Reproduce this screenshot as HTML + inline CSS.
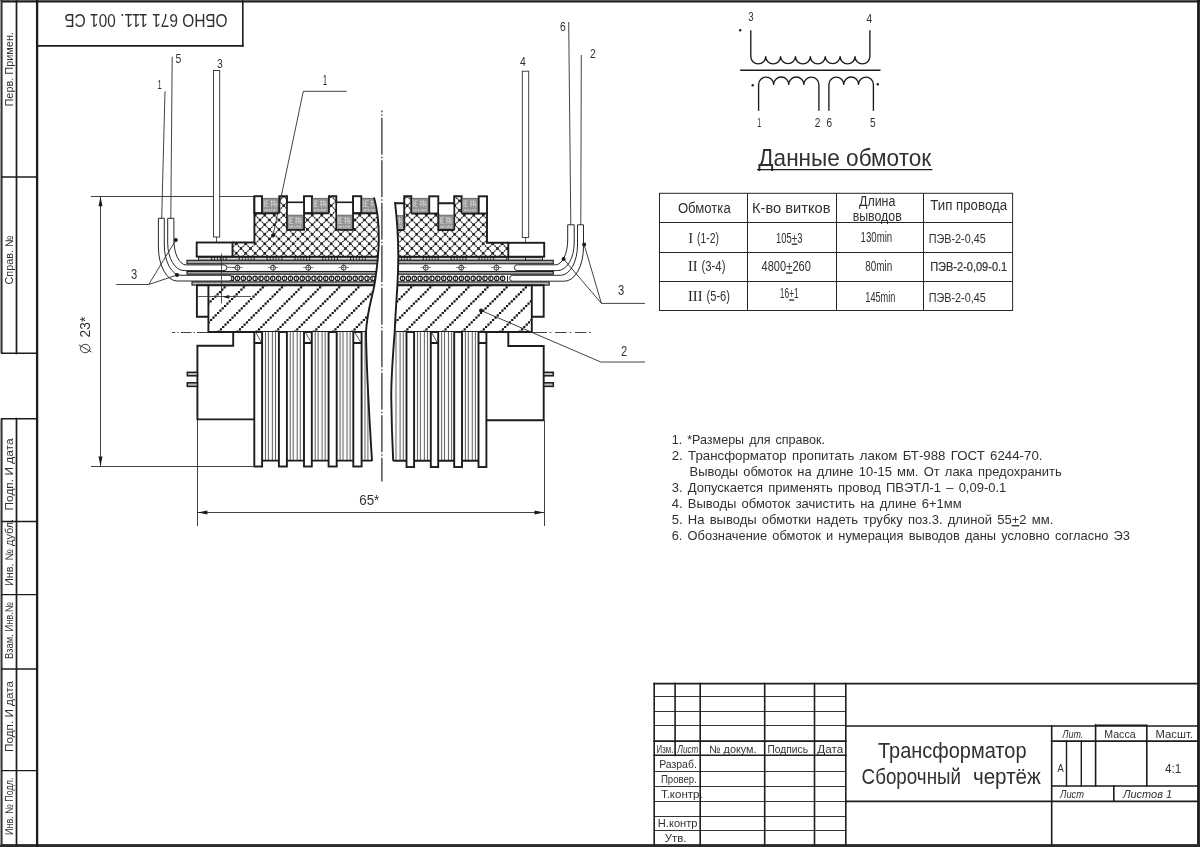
<!DOCTYPE html>
<html><head><meta charset="utf-8"><title>Сборочный чертёж</title>
<style>
html,body{margin:0;padding:0;background:#fff;}
body{width:1200px;height:847px;overflow:hidden;font-family:"Liberation Sans",sans-serif;}
svg{display:block;filter:grayscale(100%);}
</style></head><body>
<svg width="1200" height="847" viewBox="0 0 1200 847">
<rect x="0" y="0" width="1200" height="847" fill="#ffffff"/>
<g id="frame" stroke-linecap="square">
<rect x="0" y="0" width="1200" height="1.2" fill="#5c5c5c"/>
<line x1="0.00" y1="1.80" x2="1199.50" y2="1.80" stroke="#1c1c1c" stroke-width="1.5" />
<line x1="1198.50" y1="0.00" x2="1198.50" y2="845.00" stroke="#1c1c1c" stroke-width="2.8" />
<rect x="0" y="844.1" width="1200" height="2.9" fill="#2a2a2a"/>
<line x1="37.10" y1="0.00" x2="37.10" y2="845.00" stroke="#1c1c1c" stroke-width="2.3" />
<rect x="0" y="1.0" width="1.1" height="352.3" fill="#9c9c9c"/>
<line x1="1.80" y1="1.00" x2="1.80" y2="353.30" stroke="#2a2a2a" stroke-width="1.5" />
<line x1="16.50" y1="1.00" x2="16.50" y2="353.30" stroke="#1c1c1c" stroke-width="1.7" />
<rect x="0" y="418.7" width="1.1" height="425.90000000000003" fill="#9c9c9c"/>
<line x1="1.80" y1="418.70" x2="1.80" y2="844.60" stroke="#2a2a2a" stroke-width="1.5" />
<line x1="16.50" y1="418.70" x2="16.50" y2="844.60" stroke="#1c1c1c" stroke-width="1.7" />
<line x1="1.70" y1="177.00" x2="37.00" y2="177.00" stroke="#1c1c1c" stroke-width="1.4" />
<line x1="1.70" y1="353.30" x2="37.00" y2="353.30" stroke="#1c1c1c" stroke-width="1.4" />
<line x1="1.70" y1="418.70" x2="37.00" y2="418.70" stroke="#1c1c1c" stroke-width="1.4" />
<line x1="1.70" y1="521.50" x2="37.00" y2="521.50" stroke="#1c1c1c" stroke-width="1.4" />
<line x1="1.70" y1="594.60" x2="37.00" y2="594.60" stroke="#1c1c1c" stroke-width="1.4" />
<line x1="1.70" y1="669.00" x2="37.00" y2="669.00" stroke="#1c1c1c" stroke-width="1.4" />
<line x1="1.70" y1="770.60" x2="37.00" y2="770.60" stroke="#1c1c1c" stroke-width="1.4" />
<line x1="37.00" y1="45.90" x2="242.80" y2="45.90" stroke="#1c1c1c" stroke-width="1.6" />
<line x1="242.80" y1="1.00" x2="242.80" y2="45.90" stroke="#1c1c1c" stroke-width="1.6" />
</g>
<text transform="translate(227.6,14.3) rotate(180)" font-family="Liberation Sans, sans-serif" font-size="17.8" fill="#303030" textLength="163.2" lengthAdjust="spacingAndGlyphs">ОБНО 671 111. 001 СБ</text>
<text transform="translate(12.50,106.50) rotate(-90)" font-family="Liberation Sans, sans-serif" font-size="11" fill="#303030" textLength="74.5" lengthAdjust="spacingAndGlyphs">Перв. Примен.</text>
<text transform="translate(12.50,284.50) rotate(-90)" font-family="Liberation Sans, sans-serif" font-size="11" fill="#303030" textLength="49.0" lengthAdjust="spacingAndGlyphs">Справ. №</text>
<text transform="translate(12.50,510.50) rotate(-90)" font-family="Liberation Sans, sans-serif" font-size="11" fill="#303030" textLength="72.0" lengthAdjust="spacingAndGlyphs">Подп. И дата</text>
<text transform="translate(12.50,586.00) rotate(-90)" font-family="Liberation Sans, sans-serif" font-size="11" fill="#303030" textLength="67.0" lengthAdjust="spacingAndGlyphs">Инв. № дубл.</text>
<text transform="translate(12.50,659.00) rotate(-90)" font-family="Liberation Sans, sans-serif" font-size="11" fill="#303030" textLength="57.0" lengthAdjust="spacingAndGlyphs">Взам. Инв.№</text>
<text transform="translate(12.50,752.00) rotate(-90)" font-family="Liberation Sans, sans-serif" font-size="11" fill="#303030" textLength="71.0" lengthAdjust="spacingAndGlyphs">Подп. И дата</text>
<text transform="translate(12.50,835.00) rotate(-90)" font-family="Liberation Sans, sans-serif" font-size="11" fill="#303030" textLength="57.5" lengthAdjust="spacingAndGlyphs">Инв. № Подл.</text>
<g id="titleblock" stroke-linecap="square">
<line x1="654.20" y1="683.60" x2="1198.40" y2="683.60" stroke="#1c1c1c" stroke-width="1.6" />
<line x1="654.20" y1="683.60" x2="654.20" y2="844.60" stroke="#1c1c1c" stroke-width="1.6" />
<line x1="675.10" y1="683.60" x2="675.10" y2="755.40" stroke="#1c1c1c" stroke-width="1.6" />
<line x1="700.20" y1="683.60" x2="700.20" y2="844.60" stroke="#1c1c1c" stroke-width="1.6" />
<line x1="764.70" y1="683.60" x2="764.70" y2="844.60" stroke="#1c1c1c" stroke-width="1.6" />
<line x1="814.50" y1="683.60" x2="814.50" y2="844.60" stroke="#1c1c1c" stroke-width="1.6" />
<line x1="845.80" y1="683.60" x2="845.80" y2="844.60" stroke="#1c1c1c" stroke-width="1.6" />
<line x1="654.20" y1="696.50" x2="845.80" y2="696.50" stroke="#1c1c1c" stroke-width="0.9" />
<line x1="654.20" y1="711.50" x2="845.80" y2="711.50" stroke="#1c1c1c" stroke-width="0.9" />
<line x1="654.20" y1="725.50" x2="845.80" y2="725.50" stroke="#1c1c1c" stroke-width="0.9" />
<line x1="654.20" y1="741.10" x2="845.80" y2="741.10" stroke="#1c1c1c" stroke-width="1.6" />
<line x1="654.20" y1="755.30" x2="845.80" y2="755.30" stroke="#1c1c1c" stroke-width="1.6" />
<line x1="654.20" y1="771.50" x2="845.80" y2="771.50" stroke="#1c1c1c" stroke-width="0.9" />
<line x1="654.20" y1="786.50" x2="845.80" y2="786.50" stroke="#1c1c1c" stroke-width="0.9" />
<line x1="654.20" y1="801.50" x2="845.80" y2="801.50" stroke="#1c1c1c" stroke-width="0.9" />
<line x1="654.20" y1="816.50" x2="845.80" y2="816.50" stroke="#1c1c1c" stroke-width="0.9" />
<line x1="654.20" y1="830.50" x2="845.80" y2="830.50" stroke="#1c1c1c" stroke-width="0.9" />
<line x1="845.80" y1="726.00" x2="1198.40" y2="726.00" stroke="#1c1c1c" stroke-width="1.6" />
<line x1="845.80" y1="801.40" x2="1198.40" y2="801.40" stroke="#1c1c1c" stroke-width="1.6" />
<line x1="1051.70" y1="726.00" x2="1051.70" y2="844.60" stroke="#1c1c1c" stroke-width="1.6" />
<line x1="1051.70" y1="741.10" x2="1198.40" y2="741.10" stroke="#1c1c1c" stroke-width="1.6" />
<line x1="1051.70" y1="786.00" x2="1198.40" y2="786.00" stroke="#1c1c1c" stroke-width="1.6" />
<line x1="1066.50" y1="741.10" x2="1066.50" y2="786.00" stroke="#1c1c1c" stroke-width="1.4" />
<line x1="1081.30" y1="741.10" x2="1081.30" y2="786.00" stroke="#1c1c1c" stroke-width="1.4" />
<line x1="1095.60" y1="725.00" x2="1095.60" y2="786.00" stroke="#1c1c1c" stroke-width="1.6" />
<line x1="1095.60" y1="725.20" x2="1146.80" y2="725.20" stroke="#1c1c1c" stroke-width="1.4" />
<line x1="1146.80" y1="726.00" x2="1146.80" y2="786.00" stroke="#1c1c1c" stroke-width="1.6" />
<line x1="1113.80" y1="786.00" x2="1113.80" y2="801.10" stroke="#1c1c1c" stroke-width="1.6" />
</g>
<text x="656.60" y="753.40" font-family="Liberation Sans, sans-serif" font-size="10" text-anchor="start" fill="#303030" textLength="16.8" lengthAdjust="spacingAndGlyphs" >Изм.</text>
<text x="677.30" y="753.40" font-family="Liberation Sans, sans-serif" font-size="10" text-anchor="start" fill="#303030" textLength="21.0" lengthAdjust="spacingAndGlyphs" font-style="italic">Лист</text>
<text x="709.00" y="753.40" font-family="Liberation Sans, sans-serif" font-size="10.5" text-anchor="start" fill="#303030" textLength="47.5" lengthAdjust="spacingAndGlyphs" >№ докум.</text>
<text x="767.50" y="753.40" font-family="Liberation Sans, sans-serif" font-size="10.5" text-anchor="start" fill="#303030" textLength="40.5" lengthAdjust="spacingAndGlyphs" >Подпись</text>
<text x="817.20" y="753.40" font-family="Liberation Sans, sans-serif" font-size="10.5" text-anchor="start" fill="#303030" textLength="26.0" lengthAdjust="spacingAndGlyphs" >Дата</text>
<text x="659.20" y="767.80" font-family="Liberation Sans, sans-serif" font-size="11.2" text-anchor="start" fill="#303030" textLength="37.6" lengthAdjust="spacingAndGlyphs" >Разраб.</text>
<text x="660.90" y="782.80" font-family="Liberation Sans, sans-serif" font-size="11.2" text-anchor="start" fill="#303030" textLength="36.0" lengthAdjust="spacingAndGlyphs" >Провер.</text>
<text x="660.90" y="797.90" font-family="Liberation Sans, sans-serif" font-size="11.2" text-anchor="start" fill="#303030" textLength="41.8" lengthAdjust="spacingAndGlyphs" >Т.контр.</text>
<text x="657.80" y="827.10" font-family="Liberation Sans, sans-serif" font-size="11.2" text-anchor="start" fill="#303030" textLength="39.7" lengthAdjust="spacingAndGlyphs" >Н.контр</text>
<text x="664.70" y="841.70" font-family="Liberation Sans, sans-serif" font-size="11.2" text-anchor="start" fill="#303030" textLength="21.7" lengthAdjust="spacingAndGlyphs" >Утв.</text>
<text x="878.00" y="758.10" font-family="Liberation Sans, sans-serif" font-size="21.4" text-anchor="start" fill="#303030" textLength="148.5" lengthAdjust="spacingAndGlyphs" >Трансформатор</text>
<text x="861.60" y="783.60" font-family="Liberation Sans, sans-serif" font-size="21.4" text-anchor="start" fill="#303030" textLength="99.4" lengthAdjust="spacingAndGlyphs" >Сборочный</text>
<text x="972.90" y="783.60" font-family="Liberation Sans, sans-serif" font-size="21.4" text-anchor="start" fill="#303030" textLength="68.0" lengthAdjust="spacingAndGlyphs" >чертёж</text>
<text x="1062.30" y="737.60" font-family="Liberation Sans, sans-serif" font-size="11" text-anchor="start" fill="#303030" textLength="21.0" lengthAdjust="spacingAndGlyphs" font-style="italic">Лит.</text>
<text x="1104.30" y="737.60" font-family="Liberation Sans, sans-serif" font-size="11" text-anchor="start" fill="#303030" textLength="31.3" lengthAdjust="spacingAndGlyphs" >Масса</text>
<text x="1155.60" y="737.60" font-family="Liberation Sans, sans-serif" font-size="11" text-anchor="start" fill="#303030" textLength="37.4" lengthAdjust="spacingAndGlyphs" >Масшт.</text>
<text x="1057.60" y="772.00" font-family="Liberation Sans, sans-serif" font-size="11" text-anchor="start" fill="#303030" textLength="6.3" lengthAdjust="spacingAndGlyphs" >А</text>
<text x="1165.00" y="772.80" font-family="Liberation Sans, sans-serif" font-size="12.5" text-anchor="start" fill="#303030" textLength="16.3" lengthAdjust="spacingAndGlyphs" >4:1</text>
<text x="1060.00" y="798.20" font-family="Liberation Sans, sans-serif" font-size="11" text-anchor="start" fill="#303030" textLength="24.0" lengthAdjust="spacingAndGlyphs" font-style="italic">Лист</text>
<text x="1123.00" y="798.20" font-family="Liberation Sans, sans-serif" font-size="11" text-anchor="start" fill="#303030" textLength="49.0" lengthAdjust="spacingAndGlyphs" font-style="italic">Листов 1</text>
<defs>
<clipPath id="cpBobL"><path d="M232.5,242.5 L254.4,242.5 L254.4,213.3 L278.7,213.3 L278.7,196.2 L287,196.2 L287,229.7 L304,229.7 L304,213.3 L328.3,213.3 L328.3,196.2 L336.3,196.2 L336.3,229.7 L353,229.7 L353,213.3 L376.5,213.3 C378.5,225 379,240 378.5,256.7 L232.5,256.7 Z"/></clipPath>
<clipPath id="cpBobR"><path d="M397.0,230 L404.2,230 L404.2,196.3 L411.3,196.3 L411.3,213.5 L438.3,213.5 L438.3,230 L454.2,230 L454.2,196.3 L461.7,196.3 L461.7,213.5 L487,213.5 L487,242.8 L508.3,242.8 L508.3,256.7 L398.3,256.7 C398.3,245 397.8,238 397.0,230 Z"/></clipPath>
<clipPath id="cpCoreL"><path d="M208.4,285.2 L374.3,285.2 C372.0,298 367.0,312 366.0,332.0 L208.4,332.0 Z"/></clipPath>
<clipPath id="cpCoreR"><path d="M397.4,285.2 L531.8,285.2 L531.8,332.0 L394.7,332.0 C395.2,318 396.5,300 397.4,285.2 Z"/></clipPath>
<clipPath id="cpHalfL"><path d="M0,150 L374.0,150 L374.0,197.5 C377.5,210 379.0,225 378.8,240 C378.6,258 376.5,272 374.3,285.6 C372.0,298 367.0,312 366.0,332.0 C366.5,375 369.5,420 372.0,461.0 L372,480 L0,480 Z"/></clipPath>
<clipPath id="cpHalfR"><path d="M700,150 L395.0,150 L395.0,202.0 C396.5,215 398.3,235 398.3,256.7 C398.2,270 397.8,278 397.4,285.6 C396.5,300 395.2,318 394.7,332.0 C393.0,355 390.8,380 391.3,400 C391.6,425 392.4,445 393.2,461.0 L393.2,480 L700,480 Z"/></clipPath>
</defs>
<g id="dims">
<line x1="90.80" y1="196.50" x2="254.00" y2="196.50" stroke="#2e2e2e" stroke-width="0.9" />
<line x1="100.50" y1="196.20" x2="100.50" y2="466.40" stroke="#2e2e2e" stroke-width="0.9" />
<line x1="91.00" y1="466.50" x2="253.00" y2="466.50" stroke="#2e2e2e" stroke-width="0.9" />
<path d="M100.5,196.4 L98.5,206.2 L102.5,206.2 Z" fill="#1c1c1c"/>
<path d="M100.5,466.2 L98.5,456.4 L102.5,456.4 Z" fill="#1c1c1c"/>
<line x1="197.50" y1="419.40" x2="197.50" y2="526.00" stroke="#2e2e2e" stroke-width="0.9" />
<line x1="544.50" y1="420.40" x2="544.50" y2="526.00" stroke="#2e2e2e" stroke-width="0.9" />
<line x1="197.20" y1="512.50" x2="544.30" y2="512.50" stroke="#2e2e2e" stroke-width="0.9" />
<path d="M197.6,512.5 L207.4,510.5 L207.4,514.5 Z" fill="#1c1c1c"/>
<path d="M544.3,512.5 L534.5,510.5 L534.5,514.5 Z" fill="#1c1c1c"/>
<line x1="381.90" y1="110.60" x2="381.90" y2="481.50" stroke="#2e2e2e" stroke-width="1.25"  stroke-dasharray="37 2 1.5 2" stroke-dashoffset="35.4"/>
<line x1="207.80" y1="332.50" x2="172.00" y2="332.50" stroke="#2e2e2e" stroke-width="0.9" stroke-dasharray="10.8 2 1.3 2.2"/>
<line x1="532.50" y1="332.50" x2="591.00" y2="332.50" stroke="#2e2e2e" stroke-width="0.9" stroke-dasharray="11.5 3 1.5 3.8" stroke-dashoffset="17.0"/>
<line x1="532.50" y1="332.50" x2="535.50" y2="332.50" stroke="#2e2e2e" stroke-width="0.9" />
</g>
<text x="369.30" y="505.20" font-family="Liberation Sans, sans-serif" font-size="14.8" text-anchor="middle" fill="#303030" textLength="20.0" lengthAdjust="spacingAndGlyphs" >65*</text>
<text transform="translate(90.0,337.4) rotate(-90)" font-family="Liberation Sans, sans-serif" font-size="14" fill="#303030" textLength="20.7" lengthAdjust="spacingAndGlyphs">23*</text>
<g transform="translate(85.2,348.5) rotate(-90)" fill="none" stroke="#2e2e2e" stroke-width="0.9"><ellipse cx="0" cy="0" rx="4.2" ry="4.8"/><line x1="-3.6" y1="6.4" x2="3.6" y2="-6.4"/></g>
<g id="wires" fill="none">
<line x1="165.00" y1="91.30" x2="161.70" y2="218.30" stroke="#2e2e2e" stroke-width="0.9" />
<line x1="172.20" y1="56.70" x2="170.80" y2="218.30" stroke="#2e2e2e" stroke-width="0.9" />
<line x1="568.70" y1="22.00" x2="570.80" y2="225.00" stroke="#2e2e2e" stroke-width="0.9" />
<line x1="581.30" y1="55.00" x2="580.80" y2="225.00" stroke="#2e2e2e" stroke-width="0.9" />
<rect x="213.50" y="70.50" width="6.20" height="166.50" stroke="#2e2e2e" stroke-width="0.9" fill="#fff" />
<line x1="216.50" y1="237.00" x2="216.50" y2="242.50" stroke="#2e2e2e" stroke-width="0.8" />
<rect x="522.30" y="71.20" width="6.40" height="166.30" stroke="#2e2e2e" stroke-width="0.9" fill="#fff" />
<line x1="525.50" y1="237.50" x2="525.50" y2="242.80" stroke="#2e2e2e" stroke-width="0.8" />
</g>
<g id="layersL" clip-path="url(#cpHalfL)">
<rect x="198" y="256.6" width="184" height="3.8" fill="#2a2a2a"/>
<line x1="199.00" y1="258.70" x2="380.00" y2="258.70" stroke="#dcdcdc" stroke-width="2.1" stroke-dasharray="12 1.1 2.0 0.9 2.0 0.9 2.0 0.9 2.0 0.9 2.0 1.1"/>
<rect x="187.00" y="260.30" width="195.00" height="3.50" stroke="#1c1c1c" stroke-width="1.1" fill="#a6a6a6" />
<rect x="187.00" y="271.50" width="195.00" height="2.70" stroke="#1c1c1c" stroke-width="1.1" fill="#a6a6a6" />
<rect x="192.00" y="281.90" width="190.00" height="3.20" stroke="#1c1c1c" stroke-width="1.1" fill="#bdbdbd" />
</g>
<g id="layersR" clip-path="url(#cpHalfR)">
<rect x="380" y="256.6" width="163" height="3.8" fill="#2a2a2a"/>
<line x1="399.00" y1="258.70" x2="508.00" y2="258.70" stroke="#dcdcdc" stroke-width="2.1" stroke-dasharray="2.0 0.9 2.0 0.9 2.0 0.9 2.0 1.1 12 1.1 2.0 0.9"/>
<line x1="509.00" y1="258.70" x2="543.00" y2="258.70" stroke="#dcdcdc" stroke-width="2.1" stroke-dasharray="16 1.0"/>
<rect x="380.00" y="260.30" width="173.30" height="3.50" stroke="#1c1c1c" stroke-width="1.1" fill="#a6a6a6" />
<rect x="380.00" y="271.50" width="173.30" height="2.70" stroke="#1c1c1c" stroke-width="1.1" fill="#a6a6a6" />
<rect x="380.00" y="281.90" width="169.20" height="3.20" stroke="#1c1c1c" stroke-width="1.1" fill="#bdbdbd" />
</g>
<g id="circL" clip-path="url(#cpHalfL)">
<circle cx="237.40" cy="267.70" r="2.45" fill="#fff" stroke="#1c1c1c" stroke-width="0.9"/>
<line x1="232.10" y1="267.50" x2="242.70" y2="267.50" stroke="#444" stroke-width="0.6" />
<line x1="237.50" y1="264.10" x2="237.50" y2="271.30" stroke="#444" stroke-width="0.6" />
<circle cx="273.00" cy="267.70" r="2.45" fill="#fff" stroke="#1c1c1c" stroke-width="0.9"/>
<line x1="267.70" y1="267.50" x2="278.30" y2="267.50" stroke="#444" stroke-width="0.6" />
<line x1="273.50" y1="264.10" x2="273.50" y2="271.30" stroke="#444" stroke-width="0.6" />
<circle cx="308.30" cy="267.70" r="2.45" fill="#fff" stroke="#1c1c1c" stroke-width="0.9"/>
<line x1="303.00" y1="267.50" x2="313.60" y2="267.50" stroke="#444" stroke-width="0.6" />
<line x1="308.50" y1="264.10" x2="308.50" y2="271.30" stroke="#444" stroke-width="0.6" />
<circle cx="343.70" cy="267.70" r="2.45" fill="#fff" stroke="#1c1c1c" stroke-width="0.9"/>
<line x1="338.40" y1="267.50" x2="349.00" y2="267.50" stroke="#444" stroke-width="0.6" />
<line x1="343.50" y1="264.10" x2="343.50" y2="271.30" stroke="#444" stroke-width="0.6" />
<circle cx="372.90" cy="278.40" r="2.2" fill="#fff" stroke="#1c1c1c" stroke-width="1.2"/>
<line x1="372.50" y1="276.10" x2="372.50" y2="280.70" stroke="#333" stroke-width="0.7" />
<circle cx="367.01" cy="278.40" r="2.2" fill="#fff" stroke="#1c1c1c" stroke-width="1.2"/>
<line x1="367.50" y1="276.10" x2="367.50" y2="280.70" stroke="#333" stroke-width="0.7" />
<circle cx="361.12" cy="278.40" r="2.2" fill="#fff" stroke="#1c1c1c" stroke-width="1.2"/>
<line x1="361.50" y1="276.10" x2="361.50" y2="280.70" stroke="#333" stroke-width="0.7" />
<circle cx="355.23" cy="278.40" r="2.2" fill="#fff" stroke="#1c1c1c" stroke-width="1.2"/>
<line x1="355.50" y1="276.10" x2="355.50" y2="280.70" stroke="#333" stroke-width="0.7" />
<circle cx="349.34" cy="278.40" r="2.2" fill="#fff" stroke="#1c1c1c" stroke-width="1.2"/>
<line x1="349.50" y1="276.10" x2="349.50" y2="280.70" stroke="#333" stroke-width="0.7" />
<circle cx="343.45" cy="278.40" r="2.2" fill="#fff" stroke="#1c1c1c" stroke-width="1.2"/>
<line x1="343.50" y1="276.10" x2="343.50" y2="280.70" stroke="#333" stroke-width="0.7" />
<circle cx="337.56" cy="278.40" r="2.2" fill="#fff" stroke="#1c1c1c" stroke-width="1.2"/>
<line x1="337.50" y1="276.10" x2="337.50" y2="280.70" stroke="#333" stroke-width="0.7" />
<circle cx="331.67" cy="278.40" r="2.2" fill="#fff" stroke="#1c1c1c" stroke-width="1.2"/>
<line x1="331.50" y1="276.10" x2="331.50" y2="280.70" stroke="#333" stroke-width="0.7" />
<circle cx="325.78" cy="278.40" r="2.2" fill="#fff" stroke="#1c1c1c" stroke-width="1.2"/>
<line x1="325.50" y1="276.10" x2="325.50" y2="280.70" stroke="#333" stroke-width="0.7" />
<circle cx="319.89" cy="278.40" r="2.2" fill="#fff" stroke="#1c1c1c" stroke-width="1.2"/>
<line x1="319.50" y1="276.10" x2="319.50" y2="280.70" stroke="#333" stroke-width="0.7" />
<circle cx="314.00" cy="278.40" r="2.2" fill="#fff" stroke="#1c1c1c" stroke-width="1.2"/>
<line x1="314.50" y1="276.10" x2="314.50" y2="280.70" stroke="#333" stroke-width="0.7" />
<circle cx="308.11" cy="278.40" r="2.2" fill="#fff" stroke="#1c1c1c" stroke-width="1.2"/>
<line x1="308.50" y1="276.10" x2="308.50" y2="280.70" stroke="#333" stroke-width="0.7" />
<circle cx="302.22" cy="278.40" r="2.2" fill="#fff" stroke="#1c1c1c" stroke-width="1.2"/>
<line x1="302.50" y1="276.10" x2="302.50" y2="280.70" stroke="#333" stroke-width="0.7" />
<circle cx="296.33" cy="278.40" r="2.2" fill="#fff" stroke="#1c1c1c" stroke-width="1.2"/>
<line x1="296.50" y1="276.10" x2="296.50" y2="280.70" stroke="#333" stroke-width="0.7" />
<circle cx="290.44" cy="278.40" r="2.2" fill="#fff" stroke="#1c1c1c" stroke-width="1.2"/>
<line x1="290.50" y1="276.10" x2="290.50" y2="280.70" stroke="#333" stroke-width="0.7" />
<circle cx="284.55" cy="278.40" r="2.2" fill="#fff" stroke="#1c1c1c" stroke-width="1.2"/>
<line x1="284.50" y1="276.10" x2="284.50" y2="280.70" stroke="#333" stroke-width="0.7" />
<circle cx="278.66" cy="278.40" r="2.2" fill="#fff" stroke="#1c1c1c" stroke-width="1.2"/>
<line x1="278.50" y1="276.10" x2="278.50" y2="280.70" stroke="#333" stroke-width="0.7" />
<circle cx="272.77" cy="278.40" r="2.2" fill="#fff" stroke="#1c1c1c" stroke-width="1.2"/>
<line x1="272.50" y1="276.10" x2="272.50" y2="280.70" stroke="#333" stroke-width="0.7" />
<circle cx="266.88" cy="278.40" r="2.2" fill="#fff" stroke="#1c1c1c" stroke-width="1.2"/>
<line x1="266.50" y1="276.10" x2="266.50" y2="280.70" stroke="#333" stroke-width="0.7" />
<circle cx="260.99" cy="278.40" r="2.2" fill="#fff" stroke="#1c1c1c" stroke-width="1.2"/>
<line x1="260.50" y1="276.10" x2="260.50" y2="280.70" stroke="#333" stroke-width="0.7" />
<circle cx="255.10" cy="278.40" r="2.2" fill="#fff" stroke="#1c1c1c" stroke-width="1.2"/>
<line x1="255.50" y1="276.10" x2="255.50" y2="280.70" stroke="#333" stroke-width="0.7" />
<circle cx="249.21" cy="278.40" r="2.2" fill="#fff" stroke="#1c1c1c" stroke-width="1.2"/>
<line x1="249.50" y1="276.10" x2="249.50" y2="280.70" stroke="#333" stroke-width="0.7" />
<circle cx="243.32" cy="278.40" r="2.2" fill="#fff" stroke="#1c1c1c" stroke-width="1.2"/>
<line x1="243.50" y1="276.10" x2="243.50" y2="280.70" stroke="#333" stroke-width="0.7" />
<circle cx="237.43" cy="278.40" r="2.2" fill="#fff" stroke="#1c1c1c" stroke-width="1.2"/>
<line x1="237.50" y1="276.10" x2="237.50" y2="280.70" stroke="#333" stroke-width="0.7" />
<circle cx="231.54" cy="278.40" r="2.2" fill="#fff" stroke="#1c1c1c" stroke-width="1.2"/>
<line x1="231.50" y1="276.10" x2="231.50" y2="280.70" stroke="#333" stroke-width="0.7" />
<line x1="233.50" y1="275.60" x2="233.50" y2="281.20" stroke="#1c1c1c" stroke-width="1.0" />
</g>
<g id="circR" clip-path="url(#cpHalfR)">
<circle cx="425.80" cy="267.70" r="2.45" fill="#fff" stroke="#1c1c1c" stroke-width="0.9"/>
<line x1="420.50" y1="267.50" x2="431.10" y2="267.50" stroke="#444" stroke-width="0.6" />
<line x1="425.50" y1="264.10" x2="425.50" y2="271.30" stroke="#444" stroke-width="0.6" />
<circle cx="461.20" cy="267.70" r="2.45" fill="#fff" stroke="#1c1c1c" stroke-width="0.9"/>
<line x1="455.90" y1="267.50" x2="466.50" y2="267.50" stroke="#444" stroke-width="0.6" />
<line x1="461.50" y1="264.10" x2="461.50" y2="271.30" stroke="#444" stroke-width="0.6" />
<circle cx="496.40" cy="267.70" r="2.45" fill="#fff" stroke="#1c1c1c" stroke-width="0.9"/>
<line x1="491.10" y1="267.50" x2="501.70" y2="267.50" stroke="#444" stroke-width="0.6" />
<line x1="496.50" y1="264.10" x2="496.50" y2="271.30" stroke="#444" stroke-width="0.6" />
<circle cx="402.50" cy="278.40" r="2.2" fill="#fff" stroke="#1c1c1c" stroke-width="1.2"/>
<line x1="402.50" y1="276.10" x2="402.50" y2="280.70" stroke="#333" stroke-width="0.7" />
<circle cx="408.39" cy="278.40" r="2.2" fill="#fff" stroke="#1c1c1c" stroke-width="1.2"/>
<line x1="408.50" y1="276.10" x2="408.50" y2="280.70" stroke="#333" stroke-width="0.7" />
<circle cx="414.28" cy="278.40" r="2.2" fill="#fff" stroke="#1c1c1c" stroke-width="1.2"/>
<line x1="414.50" y1="276.10" x2="414.50" y2="280.70" stroke="#333" stroke-width="0.7" />
<circle cx="420.17" cy="278.40" r="2.2" fill="#fff" stroke="#1c1c1c" stroke-width="1.2"/>
<line x1="420.50" y1="276.10" x2="420.50" y2="280.70" stroke="#333" stroke-width="0.7" />
<circle cx="426.06" cy="278.40" r="2.2" fill="#fff" stroke="#1c1c1c" stroke-width="1.2"/>
<line x1="426.50" y1="276.10" x2="426.50" y2="280.70" stroke="#333" stroke-width="0.7" />
<circle cx="431.95" cy="278.40" r="2.2" fill="#fff" stroke="#1c1c1c" stroke-width="1.2"/>
<line x1="431.50" y1="276.10" x2="431.50" y2="280.70" stroke="#333" stroke-width="0.7" />
<circle cx="437.84" cy="278.40" r="2.2" fill="#fff" stroke="#1c1c1c" stroke-width="1.2"/>
<line x1="437.50" y1="276.10" x2="437.50" y2="280.70" stroke="#333" stroke-width="0.7" />
<circle cx="443.73" cy="278.40" r="2.2" fill="#fff" stroke="#1c1c1c" stroke-width="1.2"/>
<line x1="443.50" y1="276.10" x2="443.50" y2="280.70" stroke="#333" stroke-width="0.7" />
<circle cx="449.62" cy="278.40" r="2.2" fill="#fff" stroke="#1c1c1c" stroke-width="1.2"/>
<line x1="449.50" y1="276.10" x2="449.50" y2="280.70" stroke="#333" stroke-width="0.7" />
<circle cx="455.51" cy="278.40" r="2.2" fill="#fff" stroke="#1c1c1c" stroke-width="1.2"/>
<line x1="455.50" y1="276.10" x2="455.50" y2="280.70" stroke="#333" stroke-width="0.7" />
<circle cx="461.40" cy="278.40" r="2.2" fill="#fff" stroke="#1c1c1c" stroke-width="1.2"/>
<line x1="461.50" y1="276.10" x2="461.50" y2="280.70" stroke="#333" stroke-width="0.7" />
<circle cx="467.29" cy="278.40" r="2.2" fill="#fff" stroke="#1c1c1c" stroke-width="1.2"/>
<line x1="467.50" y1="276.10" x2="467.50" y2="280.70" stroke="#333" stroke-width="0.7" />
<circle cx="473.18" cy="278.40" r="2.2" fill="#fff" stroke="#1c1c1c" stroke-width="1.2"/>
<line x1="473.50" y1="276.10" x2="473.50" y2="280.70" stroke="#333" stroke-width="0.7" />
<circle cx="479.07" cy="278.40" r="2.2" fill="#fff" stroke="#1c1c1c" stroke-width="1.2"/>
<line x1="479.50" y1="276.10" x2="479.50" y2="280.70" stroke="#333" stroke-width="0.7" />
<circle cx="484.96" cy="278.40" r="2.2" fill="#fff" stroke="#1c1c1c" stroke-width="1.2"/>
<line x1="484.50" y1="276.10" x2="484.50" y2="280.70" stroke="#333" stroke-width="0.7" />
<circle cx="490.85" cy="278.40" r="2.2" fill="#fff" stroke="#1c1c1c" stroke-width="1.2"/>
<line x1="490.50" y1="276.10" x2="490.50" y2="280.70" stroke="#333" stroke-width="0.7" />
<circle cx="496.74" cy="278.40" r="2.2" fill="#fff" stroke="#1c1c1c" stroke-width="1.2"/>
<line x1="496.50" y1="276.10" x2="496.50" y2="280.70" stroke="#333" stroke-width="0.7" />
<circle cx="502.63" cy="278.40" r="2.2" fill="#fff" stroke="#1c1c1c" stroke-width="1.2"/>
<line x1="502.50" y1="276.10" x2="502.50" y2="280.70" stroke="#333" stroke-width="0.7" />
<line x1="507.50" y1="275.60" x2="507.50" y2="281.20" stroke="#1c1c1c" stroke-width="1.0" />
</g>
<line x1="226.70" y1="267.00" x2="234.50" y2="267.70" stroke="#2e2e2e" stroke-width="0.7" />
<line x1="214.00" y1="266.50" x2="226.00" y2="266.50" stroke="#2e2e2e" stroke-width="0.7" />
<g id="tubes" fill="#fff">
<path d="M158.40,218.3 L164.30,218.3 L164.30,245 A16.70,30.30 0 0 0 181.00,275.3 L229.00,275.3 A2.85,2.85 0 0 1 229.00,281.0 L177.20,281.0 A18.80,34.00 0 0 1 158.40,247 Z" stroke="#1c1c1c" stroke-width="0.95" fill="#fff" />
<path d="M167.70,218.3 L173.90,218.3 L173.90,240 A12.10,24.90 0 0 0 186.00,264.9 L224.00,264.9 A2.85,2.85 0 0 1 224.00,270.6 L184.00,270.6 A16.30,27.60 0 0 1 167.70,243 Z" stroke="#1c1c1c" stroke-width="0.95" fill="#fff" />
<path d="M583.50,224.8 L577.50,224.8 L577.50,245 A16.90,30.30 0 0 1 560.60,275.3 L512.60,275.3 A2.95,2.95 0 0 0 512.60,281.2 L564.40,281.2 A19.10,34.20 0 0 0 583.50,247 Z" stroke="#1c1c1c" stroke-width="0.95" fill="#fff" />
<path d="M574.20,224.8 L567.70,224.8 L567.70,240 A12.10,24.80 0 0 1 555.60,264.8 L517.30,264.8 A2.90,2.90 0 0 0 517.30,270.6 L557.60,270.6 A16.60,27.60 0 0 0 574.20,243 Z" stroke="#1c1c1c" stroke-width="0.95" fill="#fff" />
</g>
<rect x="196.70" y="242.50" width="35.80" height="14.10" stroke="#1c1c1c" stroke-width="1.9" fill="#fff" />
<rect x="508.30" y="242.80" width="35.90" height="13.90" stroke="#1c1c1c" stroke-width="1.9" fill="#fff" />
<g clip-path="url(#cpBobL)" stroke="#2a2a2a" stroke-width="1.2" stroke-dasharray="1.7 0.55">
<line x1="155.50" y1="258" x2="220.50" y2="193"/>
<line x1="165.00" y1="258" x2="230.00" y2="193"/>
<line x1="174.50" y1="258" x2="239.50" y2="193"/>
<line x1="184.00" y1="258" x2="249.00" y2="193"/>
<line x1="193.50" y1="258" x2="258.50" y2="193"/>
<line x1="203.00" y1="258" x2="268.00" y2="193"/>
<line x1="212.50" y1="258" x2="277.50" y2="193"/>
<line x1="222.00" y1="258" x2="287.00" y2="193"/>
<line x1="231.50" y1="258" x2="296.50" y2="193"/>
<line x1="241.00" y1="258" x2="306.00" y2="193"/>
<line x1="250.50" y1="258" x2="315.50" y2="193"/>
<line x1="260.00" y1="258" x2="325.00" y2="193"/>
<line x1="269.50" y1="258" x2="334.50" y2="193"/>
<line x1="279.00" y1="258" x2="344.00" y2="193"/>
<line x1="288.50" y1="258" x2="353.50" y2="193"/>
<line x1="298.00" y1="258" x2="363.00" y2="193"/>
<line x1="307.50" y1="258" x2="372.50" y2="193"/>
<line x1="317.00" y1="258" x2="382.00" y2="193"/>
<line x1="326.50" y1="258" x2="391.50" y2="193"/>
<line x1="336.00" y1="258" x2="401.00" y2="193"/>
<line x1="345.50" y1="258" x2="410.50" y2="193"/>
<line x1="355.00" y1="258" x2="420.00" y2="193"/>
<line x1="364.50" y1="258" x2="429.50" y2="193"/>
<line x1="374.00" y1="258" x2="439.00" y2="193"/>
<line x1="383.50" y1="258" x2="448.50" y2="193"/>
<line x1="393.00" y1="258" x2="458.00" y2="193"/>
<line x1="147.50" y1="193" x2="212.50" y2="258"/>
<line x1="157.00" y1="193" x2="222.00" y2="258"/>
<line x1="166.50" y1="193" x2="231.50" y2="258"/>
<line x1="176.00" y1="193" x2="241.00" y2="258"/>
<line x1="185.50" y1="193" x2="250.50" y2="258"/>
<line x1="195.00" y1="193" x2="260.00" y2="258"/>
<line x1="204.50" y1="193" x2="269.50" y2="258"/>
<line x1="214.00" y1="193" x2="279.00" y2="258"/>
<line x1="223.50" y1="193" x2="288.50" y2="258"/>
<line x1="233.00" y1="193" x2="298.00" y2="258"/>
<line x1="242.50" y1="193" x2="307.50" y2="258"/>
<line x1="252.00" y1="193" x2="317.00" y2="258"/>
<line x1="261.50" y1="193" x2="326.50" y2="258"/>
<line x1="271.00" y1="193" x2="336.00" y2="258"/>
<line x1="280.50" y1="193" x2="345.50" y2="258"/>
<line x1="290.00" y1="193" x2="355.00" y2="258"/>
<line x1="299.50" y1="193" x2="364.50" y2="258"/>
<line x1="309.00" y1="193" x2="374.00" y2="258"/>
<line x1="318.50" y1="193" x2="383.50" y2="258"/>
<line x1="328.00" y1="193" x2="393.00" y2="258"/>
<line x1="337.50" y1="193" x2="402.50" y2="258"/>
<line x1="347.00" y1="193" x2="412.00" y2="258"/>
<line x1="356.50" y1="193" x2="421.50" y2="258"/>
<line x1="366.00" y1="193" x2="431.00" y2="258"/>
<line x1="375.50" y1="193" x2="440.50" y2="258"/>
<line x1="385.00" y1="193" x2="450.00" y2="258"/>
<line x1="394.50" y1="193" x2="459.50" y2="258"/>
</g>
<g clip-path="url(#cpBobL)" fill="#1c1c1c">
<circle cx="231.50" cy="191.50" r="1.15"/>
<circle cx="231.50" cy="201.00" r="1.15"/>
<circle cx="236.25" cy="196.25" r="1.15"/>
<circle cx="241.00" cy="191.50" r="1.15"/>
<circle cx="231.50" cy="210.50" r="1.15"/>
<circle cx="236.25" cy="205.75" r="1.15"/>
<circle cx="241.00" cy="201.00" r="1.15"/>
<circle cx="245.75" cy="196.25" r="1.15"/>
<circle cx="250.50" cy="191.50" r="1.15"/>
<circle cx="231.50" cy="220.00" r="1.15"/>
<circle cx="236.25" cy="215.25" r="1.15"/>
<circle cx="241.00" cy="210.50" r="1.15"/>
<circle cx="245.75" cy="205.75" r="1.15"/>
<circle cx="250.50" cy="201.00" r="1.15"/>
<circle cx="255.25" cy="196.25" r="1.15"/>
<circle cx="260.00" cy="191.50" r="1.15"/>
<circle cx="231.50" cy="229.50" r="1.15"/>
<circle cx="236.25" cy="224.75" r="1.15"/>
<circle cx="241.00" cy="220.00" r="1.15"/>
<circle cx="245.75" cy="215.25" r="1.15"/>
<circle cx="250.50" cy="210.50" r="1.15"/>
<circle cx="255.25" cy="205.75" r="1.15"/>
<circle cx="260.00" cy="201.00" r="1.15"/>
<circle cx="264.75" cy="196.25" r="1.15"/>
<circle cx="269.50" cy="191.50" r="1.15"/>
<circle cx="231.50" cy="239.00" r="1.15"/>
<circle cx="236.25" cy="234.25" r="1.15"/>
<circle cx="241.00" cy="229.50" r="1.15"/>
<circle cx="245.75" cy="224.75" r="1.15"/>
<circle cx="250.50" cy="220.00" r="1.15"/>
<circle cx="255.25" cy="215.25" r="1.15"/>
<circle cx="260.00" cy="210.50" r="1.15"/>
<circle cx="264.75" cy="205.75" r="1.15"/>
<circle cx="269.50" cy="201.00" r="1.15"/>
<circle cx="274.25" cy="196.25" r="1.15"/>
<circle cx="279.00" cy="191.50" r="1.15"/>
<circle cx="231.50" cy="248.50" r="1.15"/>
<circle cx="236.25" cy="243.75" r="1.15"/>
<circle cx="241.00" cy="239.00" r="1.15"/>
<circle cx="245.75" cy="234.25" r="1.15"/>
<circle cx="250.50" cy="229.50" r="1.15"/>
<circle cx="255.25" cy="224.75" r="1.15"/>
<circle cx="260.00" cy="220.00" r="1.15"/>
<circle cx="264.75" cy="215.25" r="1.15"/>
<circle cx="269.50" cy="210.50" r="1.15"/>
<circle cx="274.25" cy="205.75" r="1.15"/>
<circle cx="279.00" cy="201.00" r="1.15"/>
<circle cx="283.75" cy="196.25" r="1.15"/>
<circle cx="288.50" cy="191.50" r="1.15"/>
<circle cx="231.50" cy="258.00" r="1.15"/>
<circle cx="236.25" cy="253.25" r="1.15"/>
<circle cx="241.00" cy="248.50" r="1.15"/>
<circle cx="245.75" cy="243.75" r="1.15"/>
<circle cx="250.50" cy="239.00" r="1.15"/>
<circle cx="255.25" cy="234.25" r="1.15"/>
<circle cx="260.00" cy="229.50" r="1.15"/>
<circle cx="264.75" cy="224.75" r="1.15"/>
<circle cx="269.50" cy="220.00" r="1.15"/>
<circle cx="274.25" cy="215.25" r="1.15"/>
<circle cx="279.00" cy="210.50" r="1.15"/>
<circle cx="283.75" cy="205.75" r="1.15"/>
<circle cx="288.50" cy="201.00" r="1.15"/>
<circle cx="293.25" cy="196.25" r="1.15"/>
<circle cx="298.00" cy="191.50" r="1.15"/>
<circle cx="241.00" cy="258.00" r="1.15"/>
<circle cx="245.75" cy="253.25" r="1.15"/>
<circle cx="250.50" cy="248.50" r="1.15"/>
<circle cx="255.25" cy="243.75" r="1.15"/>
<circle cx="260.00" cy="239.00" r="1.15"/>
<circle cx="264.75" cy="234.25" r="1.15"/>
<circle cx="269.50" cy="229.50" r="1.15"/>
<circle cx="274.25" cy="224.75" r="1.15"/>
<circle cx="279.00" cy="220.00" r="1.15"/>
<circle cx="283.75" cy="215.25" r="1.15"/>
<circle cx="288.50" cy="210.50" r="1.15"/>
<circle cx="293.25" cy="205.75" r="1.15"/>
<circle cx="298.00" cy="201.00" r="1.15"/>
<circle cx="302.75" cy="196.25" r="1.15"/>
<circle cx="307.50" cy="191.50" r="1.15"/>
<circle cx="250.50" cy="258.00" r="1.15"/>
<circle cx="255.25" cy="253.25" r="1.15"/>
<circle cx="260.00" cy="248.50" r="1.15"/>
<circle cx="264.75" cy="243.75" r="1.15"/>
<circle cx="269.50" cy="239.00" r="1.15"/>
<circle cx="274.25" cy="234.25" r="1.15"/>
<circle cx="279.00" cy="229.50" r="1.15"/>
<circle cx="283.75" cy="224.75" r="1.15"/>
<circle cx="288.50" cy="220.00" r="1.15"/>
<circle cx="293.25" cy="215.25" r="1.15"/>
<circle cx="298.00" cy="210.50" r="1.15"/>
<circle cx="302.75" cy="205.75" r="1.15"/>
<circle cx="307.50" cy="201.00" r="1.15"/>
<circle cx="312.25" cy="196.25" r="1.15"/>
<circle cx="317.00" cy="191.50" r="1.15"/>
<circle cx="260.00" cy="258.00" r="1.15"/>
<circle cx="264.75" cy="253.25" r="1.15"/>
<circle cx="269.50" cy="248.50" r="1.15"/>
<circle cx="274.25" cy="243.75" r="1.15"/>
<circle cx="279.00" cy="239.00" r="1.15"/>
<circle cx="283.75" cy="234.25" r="1.15"/>
<circle cx="288.50" cy="229.50" r="1.15"/>
<circle cx="293.25" cy="224.75" r="1.15"/>
<circle cx="298.00" cy="220.00" r="1.15"/>
<circle cx="302.75" cy="215.25" r="1.15"/>
<circle cx="307.50" cy="210.50" r="1.15"/>
<circle cx="312.25" cy="205.75" r="1.15"/>
<circle cx="317.00" cy="201.00" r="1.15"/>
<circle cx="321.75" cy="196.25" r="1.15"/>
<circle cx="326.50" cy="191.50" r="1.15"/>
<circle cx="269.50" cy="258.00" r="1.15"/>
<circle cx="274.25" cy="253.25" r="1.15"/>
<circle cx="279.00" cy="248.50" r="1.15"/>
<circle cx="283.75" cy="243.75" r="1.15"/>
<circle cx="288.50" cy="239.00" r="1.15"/>
<circle cx="293.25" cy="234.25" r="1.15"/>
<circle cx="298.00" cy="229.50" r="1.15"/>
<circle cx="302.75" cy="224.75" r="1.15"/>
<circle cx="307.50" cy="220.00" r="1.15"/>
<circle cx="312.25" cy="215.25" r="1.15"/>
<circle cx="317.00" cy="210.50" r="1.15"/>
<circle cx="321.75" cy="205.75" r="1.15"/>
<circle cx="326.50" cy="201.00" r="1.15"/>
<circle cx="331.25" cy="196.25" r="1.15"/>
<circle cx="336.00" cy="191.50" r="1.15"/>
<circle cx="279.00" cy="258.00" r="1.15"/>
<circle cx="283.75" cy="253.25" r="1.15"/>
<circle cx="288.50" cy="248.50" r="1.15"/>
<circle cx="293.25" cy="243.75" r="1.15"/>
<circle cx="298.00" cy="239.00" r="1.15"/>
<circle cx="302.75" cy="234.25" r="1.15"/>
<circle cx="307.50" cy="229.50" r="1.15"/>
<circle cx="312.25" cy="224.75" r="1.15"/>
<circle cx="317.00" cy="220.00" r="1.15"/>
<circle cx="321.75" cy="215.25" r="1.15"/>
<circle cx="326.50" cy="210.50" r="1.15"/>
<circle cx="331.25" cy="205.75" r="1.15"/>
<circle cx="336.00" cy="201.00" r="1.15"/>
<circle cx="340.75" cy="196.25" r="1.15"/>
<circle cx="345.50" cy="191.50" r="1.15"/>
<circle cx="288.50" cy="258.00" r="1.15"/>
<circle cx="293.25" cy="253.25" r="1.15"/>
<circle cx="298.00" cy="248.50" r="1.15"/>
<circle cx="302.75" cy="243.75" r="1.15"/>
<circle cx="307.50" cy="239.00" r="1.15"/>
<circle cx="312.25" cy="234.25" r="1.15"/>
<circle cx="317.00" cy="229.50" r="1.15"/>
<circle cx="321.75" cy="224.75" r="1.15"/>
<circle cx="326.50" cy="220.00" r="1.15"/>
<circle cx="331.25" cy="215.25" r="1.15"/>
<circle cx="336.00" cy="210.50" r="1.15"/>
<circle cx="340.75" cy="205.75" r="1.15"/>
<circle cx="345.50" cy="201.00" r="1.15"/>
<circle cx="350.25" cy="196.25" r="1.15"/>
<circle cx="355.00" cy="191.50" r="1.15"/>
<circle cx="298.00" cy="258.00" r="1.15"/>
<circle cx="302.75" cy="253.25" r="1.15"/>
<circle cx="307.50" cy="248.50" r="1.15"/>
<circle cx="312.25" cy="243.75" r="1.15"/>
<circle cx="317.00" cy="239.00" r="1.15"/>
<circle cx="321.75" cy="234.25" r="1.15"/>
<circle cx="326.50" cy="229.50" r="1.15"/>
<circle cx="331.25" cy="224.75" r="1.15"/>
<circle cx="336.00" cy="220.00" r="1.15"/>
<circle cx="340.75" cy="215.25" r="1.15"/>
<circle cx="345.50" cy="210.50" r="1.15"/>
<circle cx="350.25" cy="205.75" r="1.15"/>
<circle cx="355.00" cy="201.00" r="1.15"/>
<circle cx="359.75" cy="196.25" r="1.15"/>
<circle cx="364.50" cy="191.50" r="1.15"/>
<circle cx="307.50" cy="258.00" r="1.15"/>
<circle cx="312.25" cy="253.25" r="1.15"/>
<circle cx="317.00" cy="248.50" r="1.15"/>
<circle cx="321.75" cy="243.75" r="1.15"/>
<circle cx="326.50" cy="239.00" r="1.15"/>
<circle cx="331.25" cy="234.25" r="1.15"/>
<circle cx="336.00" cy="229.50" r="1.15"/>
<circle cx="340.75" cy="224.75" r="1.15"/>
<circle cx="345.50" cy="220.00" r="1.15"/>
<circle cx="350.25" cy="215.25" r="1.15"/>
<circle cx="355.00" cy="210.50" r="1.15"/>
<circle cx="359.75" cy="205.75" r="1.15"/>
<circle cx="364.50" cy="201.00" r="1.15"/>
<circle cx="369.25" cy="196.25" r="1.15"/>
<circle cx="374.00" cy="191.50" r="1.15"/>
<circle cx="317.00" cy="258.00" r="1.15"/>
<circle cx="321.75" cy="253.25" r="1.15"/>
<circle cx="326.50" cy="248.50" r="1.15"/>
<circle cx="331.25" cy="243.75" r="1.15"/>
<circle cx="336.00" cy="239.00" r="1.15"/>
<circle cx="340.75" cy="234.25" r="1.15"/>
<circle cx="345.50" cy="229.50" r="1.15"/>
<circle cx="350.25" cy="224.75" r="1.15"/>
<circle cx="355.00" cy="220.00" r="1.15"/>
<circle cx="359.75" cy="215.25" r="1.15"/>
<circle cx="364.50" cy="210.50" r="1.15"/>
<circle cx="369.25" cy="205.75" r="1.15"/>
<circle cx="374.00" cy="201.00" r="1.15"/>
<circle cx="378.75" cy="196.25" r="1.15"/>
<circle cx="383.50" cy="191.50" r="1.15"/>
<circle cx="326.50" cy="258.00" r="1.15"/>
<circle cx="331.25" cy="253.25" r="1.15"/>
<circle cx="336.00" cy="248.50" r="1.15"/>
<circle cx="340.75" cy="243.75" r="1.15"/>
<circle cx="345.50" cy="239.00" r="1.15"/>
<circle cx="350.25" cy="234.25" r="1.15"/>
<circle cx="355.00" cy="229.50" r="1.15"/>
<circle cx="359.75" cy="224.75" r="1.15"/>
<circle cx="364.50" cy="220.00" r="1.15"/>
<circle cx="369.25" cy="215.25" r="1.15"/>
<circle cx="374.00" cy="210.50" r="1.15"/>
<circle cx="378.75" cy="205.75" r="1.15"/>
<circle cx="383.50" cy="201.00" r="1.15"/>
<circle cx="336.00" cy="258.00" r="1.15"/>
<circle cx="340.75" cy="253.25" r="1.15"/>
<circle cx="345.50" cy="248.50" r="1.15"/>
<circle cx="350.25" cy="243.75" r="1.15"/>
<circle cx="355.00" cy="239.00" r="1.15"/>
<circle cx="359.75" cy="234.25" r="1.15"/>
<circle cx="364.50" cy="229.50" r="1.15"/>
<circle cx="369.25" cy="224.75" r="1.15"/>
<circle cx="374.00" cy="220.00" r="1.15"/>
<circle cx="378.75" cy="215.25" r="1.15"/>
<circle cx="383.50" cy="210.50" r="1.15"/>
<circle cx="345.50" cy="258.00" r="1.15"/>
<circle cx="350.25" cy="253.25" r="1.15"/>
<circle cx="355.00" cy="248.50" r="1.15"/>
<circle cx="359.75" cy="243.75" r="1.15"/>
<circle cx="364.50" cy="239.00" r="1.15"/>
<circle cx="369.25" cy="234.25" r="1.15"/>
<circle cx="374.00" cy="229.50" r="1.15"/>
<circle cx="378.75" cy="224.75" r="1.15"/>
<circle cx="383.50" cy="220.00" r="1.15"/>
<circle cx="355.00" cy="258.00" r="1.15"/>
<circle cx="359.75" cy="253.25" r="1.15"/>
<circle cx="364.50" cy="248.50" r="1.15"/>
<circle cx="369.25" cy="243.75" r="1.15"/>
<circle cx="374.00" cy="239.00" r="1.15"/>
<circle cx="378.75" cy="234.25" r="1.15"/>
<circle cx="383.50" cy="229.50" r="1.15"/>
<circle cx="364.50" cy="258.00" r="1.15"/>
<circle cx="369.25" cy="253.25" r="1.15"/>
<circle cx="374.00" cy="248.50" r="1.15"/>
<circle cx="378.75" cy="243.75" r="1.15"/>
<circle cx="383.50" cy="239.00" r="1.15"/>
<circle cx="374.00" cy="258.00" r="1.15"/>
<circle cx="378.75" cy="253.25" r="1.15"/>
<circle cx="383.50" cy="248.50" r="1.15"/>
<circle cx="383.50" cy="258.00" r="1.15"/>
</g>
<g clip-path="url(#cpBobR)" stroke="#2a2a2a" stroke-width="1.2" stroke-dasharray="1.7 0.55">
<line x1="317.00" y1="258" x2="382.00" y2="193"/>
<line x1="326.50" y1="258" x2="391.50" y2="193"/>
<line x1="336.00" y1="258" x2="401.00" y2="193"/>
<line x1="345.50" y1="258" x2="410.50" y2="193"/>
<line x1="355.00" y1="258" x2="420.00" y2="193"/>
<line x1="364.50" y1="258" x2="429.50" y2="193"/>
<line x1="374.00" y1="258" x2="439.00" y2="193"/>
<line x1="383.50" y1="258" x2="448.50" y2="193"/>
<line x1="393.00" y1="258" x2="458.00" y2="193"/>
<line x1="402.50" y1="258" x2="467.50" y2="193"/>
<line x1="412.00" y1="258" x2="477.00" y2="193"/>
<line x1="421.50" y1="258" x2="486.50" y2="193"/>
<line x1="431.00" y1="258" x2="496.00" y2="193"/>
<line x1="440.50" y1="258" x2="505.50" y2="193"/>
<line x1="450.00" y1="258" x2="515.00" y2="193"/>
<line x1="459.50" y1="258" x2="524.50" y2="193"/>
<line x1="469.00" y1="258" x2="534.00" y2="193"/>
<line x1="478.50" y1="258" x2="543.50" y2="193"/>
<line x1="488.00" y1="258" x2="553.00" y2="193"/>
<line x1="497.50" y1="258" x2="562.50" y2="193"/>
<line x1="507.00" y1="258" x2="572.00" y2="193"/>
<line x1="516.50" y1="258" x2="581.50" y2="193"/>
<line x1="526.00" y1="258" x2="591.00" y2="193"/>
<line x1="309.00" y1="193" x2="374.00" y2="258"/>
<line x1="318.50" y1="193" x2="383.50" y2="258"/>
<line x1="328.00" y1="193" x2="393.00" y2="258"/>
<line x1="337.50" y1="193" x2="402.50" y2="258"/>
<line x1="347.00" y1="193" x2="412.00" y2="258"/>
<line x1="356.50" y1="193" x2="421.50" y2="258"/>
<line x1="366.00" y1="193" x2="431.00" y2="258"/>
<line x1="375.50" y1="193" x2="440.50" y2="258"/>
<line x1="385.00" y1="193" x2="450.00" y2="258"/>
<line x1="394.50" y1="193" x2="459.50" y2="258"/>
<line x1="404.00" y1="193" x2="469.00" y2="258"/>
<line x1="413.50" y1="193" x2="478.50" y2="258"/>
<line x1="423.00" y1="193" x2="488.00" y2="258"/>
<line x1="432.50" y1="193" x2="497.50" y2="258"/>
<line x1="442.00" y1="193" x2="507.00" y2="258"/>
<line x1="451.50" y1="193" x2="516.50" y2="258"/>
<line x1="461.00" y1="193" x2="526.00" y2="258"/>
<line x1="470.50" y1="193" x2="535.50" y2="258"/>
<line x1="480.00" y1="193" x2="545.00" y2="258"/>
<line x1="489.50" y1="193" x2="554.50" y2="258"/>
<line x1="499.00" y1="193" x2="564.00" y2="258"/>
<line x1="508.50" y1="193" x2="573.50" y2="258"/>
<line x1="518.00" y1="193" x2="583.00" y2="258"/>
<line x1="527.50" y1="193" x2="592.50" y2="258"/>
</g>
<g clip-path="url(#cpBobR)" fill="#1c1c1c">
<circle cx="393.00" cy="191.50" r="1.15"/>
<circle cx="393.00" cy="201.00" r="1.15"/>
<circle cx="397.75" cy="196.25" r="1.15"/>
<circle cx="402.50" cy="191.50" r="1.15"/>
<circle cx="393.00" cy="210.50" r="1.15"/>
<circle cx="397.75" cy="205.75" r="1.15"/>
<circle cx="402.50" cy="201.00" r="1.15"/>
<circle cx="407.25" cy="196.25" r="1.15"/>
<circle cx="412.00" cy="191.50" r="1.15"/>
<circle cx="393.00" cy="220.00" r="1.15"/>
<circle cx="397.75" cy="215.25" r="1.15"/>
<circle cx="402.50" cy="210.50" r="1.15"/>
<circle cx="407.25" cy="205.75" r="1.15"/>
<circle cx="412.00" cy="201.00" r="1.15"/>
<circle cx="416.75" cy="196.25" r="1.15"/>
<circle cx="421.50" cy="191.50" r="1.15"/>
<circle cx="393.00" cy="229.50" r="1.15"/>
<circle cx="397.75" cy="224.75" r="1.15"/>
<circle cx="402.50" cy="220.00" r="1.15"/>
<circle cx="407.25" cy="215.25" r="1.15"/>
<circle cx="412.00" cy="210.50" r="1.15"/>
<circle cx="416.75" cy="205.75" r="1.15"/>
<circle cx="421.50" cy="201.00" r="1.15"/>
<circle cx="426.25" cy="196.25" r="1.15"/>
<circle cx="431.00" cy="191.50" r="1.15"/>
<circle cx="393.00" cy="239.00" r="1.15"/>
<circle cx="397.75" cy="234.25" r="1.15"/>
<circle cx="402.50" cy="229.50" r="1.15"/>
<circle cx="407.25" cy="224.75" r="1.15"/>
<circle cx="412.00" cy="220.00" r="1.15"/>
<circle cx="416.75" cy="215.25" r="1.15"/>
<circle cx="421.50" cy="210.50" r="1.15"/>
<circle cx="426.25" cy="205.75" r="1.15"/>
<circle cx="431.00" cy="201.00" r="1.15"/>
<circle cx="435.75" cy="196.25" r="1.15"/>
<circle cx="440.50" cy="191.50" r="1.15"/>
<circle cx="393.00" cy="248.50" r="1.15"/>
<circle cx="397.75" cy="243.75" r="1.15"/>
<circle cx="402.50" cy="239.00" r="1.15"/>
<circle cx="407.25" cy="234.25" r="1.15"/>
<circle cx="412.00" cy="229.50" r="1.15"/>
<circle cx="416.75" cy="224.75" r="1.15"/>
<circle cx="421.50" cy="220.00" r="1.15"/>
<circle cx="426.25" cy="215.25" r="1.15"/>
<circle cx="431.00" cy="210.50" r="1.15"/>
<circle cx="435.75" cy="205.75" r="1.15"/>
<circle cx="440.50" cy="201.00" r="1.15"/>
<circle cx="445.25" cy="196.25" r="1.15"/>
<circle cx="450.00" cy="191.50" r="1.15"/>
<circle cx="393.00" cy="258.00" r="1.15"/>
<circle cx="397.75" cy="253.25" r="1.15"/>
<circle cx="402.50" cy="248.50" r="1.15"/>
<circle cx="407.25" cy="243.75" r="1.15"/>
<circle cx="412.00" cy="239.00" r="1.15"/>
<circle cx="416.75" cy="234.25" r="1.15"/>
<circle cx="421.50" cy="229.50" r="1.15"/>
<circle cx="426.25" cy="224.75" r="1.15"/>
<circle cx="431.00" cy="220.00" r="1.15"/>
<circle cx="435.75" cy="215.25" r="1.15"/>
<circle cx="440.50" cy="210.50" r="1.15"/>
<circle cx="445.25" cy="205.75" r="1.15"/>
<circle cx="450.00" cy="201.00" r="1.15"/>
<circle cx="454.75" cy="196.25" r="1.15"/>
<circle cx="459.50" cy="191.50" r="1.15"/>
<circle cx="402.50" cy="258.00" r="1.15"/>
<circle cx="407.25" cy="253.25" r="1.15"/>
<circle cx="412.00" cy="248.50" r="1.15"/>
<circle cx="416.75" cy="243.75" r="1.15"/>
<circle cx="421.50" cy="239.00" r="1.15"/>
<circle cx="426.25" cy="234.25" r="1.15"/>
<circle cx="431.00" cy="229.50" r="1.15"/>
<circle cx="435.75" cy="224.75" r="1.15"/>
<circle cx="440.50" cy="220.00" r="1.15"/>
<circle cx="445.25" cy="215.25" r="1.15"/>
<circle cx="450.00" cy="210.50" r="1.15"/>
<circle cx="454.75" cy="205.75" r="1.15"/>
<circle cx="459.50" cy="201.00" r="1.15"/>
<circle cx="464.25" cy="196.25" r="1.15"/>
<circle cx="469.00" cy="191.50" r="1.15"/>
<circle cx="412.00" cy="258.00" r="1.15"/>
<circle cx="416.75" cy="253.25" r="1.15"/>
<circle cx="421.50" cy="248.50" r="1.15"/>
<circle cx="426.25" cy="243.75" r="1.15"/>
<circle cx="431.00" cy="239.00" r="1.15"/>
<circle cx="435.75" cy="234.25" r="1.15"/>
<circle cx="440.50" cy="229.50" r="1.15"/>
<circle cx="445.25" cy="224.75" r="1.15"/>
<circle cx="450.00" cy="220.00" r="1.15"/>
<circle cx="454.75" cy="215.25" r="1.15"/>
<circle cx="459.50" cy="210.50" r="1.15"/>
<circle cx="464.25" cy="205.75" r="1.15"/>
<circle cx="469.00" cy="201.00" r="1.15"/>
<circle cx="473.75" cy="196.25" r="1.15"/>
<circle cx="478.50" cy="191.50" r="1.15"/>
<circle cx="421.50" cy="258.00" r="1.15"/>
<circle cx="426.25" cy="253.25" r="1.15"/>
<circle cx="431.00" cy="248.50" r="1.15"/>
<circle cx="435.75" cy="243.75" r="1.15"/>
<circle cx="440.50" cy="239.00" r="1.15"/>
<circle cx="445.25" cy="234.25" r="1.15"/>
<circle cx="450.00" cy="229.50" r="1.15"/>
<circle cx="454.75" cy="224.75" r="1.15"/>
<circle cx="459.50" cy="220.00" r="1.15"/>
<circle cx="464.25" cy="215.25" r="1.15"/>
<circle cx="469.00" cy="210.50" r="1.15"/>
<circle cx="473.75" cy="205.75" r="1.15"/>
<circle cx="478.50" cy="201.00" r="1.15"/>
<circle cx="483.25" cy="196.25" r="1.15"/>
<circle cx="488.00" cy="191.50" r="1.15"/>
<circle cx="431.00" cy="258.00" r="1.15"/>
<circle cx="435.75" cy="253.25" r="1.15"/>
<circle cx="440.50" cy="248.50" r="1.15"/>
<circle cx="445.25" cy="243.75" r="1.15"/>
<circle cx="450.00" cy="239.00" r="1.15"/>
<circle cx="454.75" cy="234.25" r="1.15"/>
<circle cx="459.50" cy="229.50" r="1.15"/>
<circle cx="464.25" cy="224.75" r="1.15"/>
<circle cx="469.00" cy="220.00" r="1.15"/>
<circle cx="473.75" cy="215.25" r="1.15"/>
<circle cx="478.50" cy="210.50" r="1.15"/>
<circle cx="483.25" cy="205.75" r="1.15"/>
<circle cx="488.00" cy="201.00" r="1.15"/>
<circle cx="492.75" cy="196.25" r="1.15"/>
<circle cx="497.50" cy="191.50" r="1.15"/>
<circle cx="440.50" cy="258.00" r="1.15"/>
<circle cx="445.25" cy="253.25" r="1.15"/>
<circle cx="450.00" cy="248.50" r="1.15"/>
<circle cx="454.75" cy="243.75" r="1.15"/>
<circle cx="459.50" cy="239.00" r="1.15"/>
<circle cx="464.25" cy="234.25" r="1.15"/>
<circle cx="469.00" cy="229.50" r="1.15"/>
<circle cx="473.75" cy="224.75" r="1.15"/>
<circle cx="478.50" cy="220.00" r="1.15"/>
<circle cx="483.25" cy="215.25" r="1.15"/>
<circle cx="488.00" cy="210.50" r="1.15"/>
<circle cx="492.75" cy="205.75" r="1.15"/>
<circle cx="497.50" cy="201.00" r="1.15"/>
<circle cx="502.25" cy="196.25" r="1.15"/>
<circle cx="507.00" cy="191.50" r="1.15"/>
<circle cx="450.00" cy="258.00" r="1.15"/>
<circle cx="454.75" cy="253.25" r="1.15"/>
<circle cx="459.50" cy="248.50" r="1.15"/>
<circle cx="464.25" cy="243.75" r="1.15"/>
<circle cx="469.00" cy="239.00" r="1.15"/>
<circle cx="473.75" cy="234.25" r="1.15"/>
<circle cx="478.50" cy="229.50" r="1.15"/>
<circle cx="483.25" cy="224.75" r="1.15"/>
<circle cx="488.00" cy="220.00" r="1.15"/>
<circle cx="492.75" cy="215.25" r="1.15"/>
<circle cx="497.50" cy="210.50" r="1.15"/>
<circle cx="502.25" cy="205.75" r="1.15"/>
<circle cx="507.00" cy="201.00" r="1.15"/>
<circle cx="511.75" cy="196.25" r="1.15"/>
<circle cx="459.50" cy="258.00" r="1.15"/>
<circle cx="464.25" cy="253.25" r="1.15"/>
<circle cx="469.00" cy="248.50" r="1.15"/>
<circle cx="473.75" cy="243.75" r="1.15"/>
<circle cx="478.50" cy="239.00" r="1.15"/>
<circle cx="483.25" cy="234.25" r="1.15"/>
<circle cx="488.00" cy="229.50" r="1.15"/>
<circle cx="492.75" cy="224.75" r="1.15"/>
<circle cx="497.50" cy="220.00" r="1.15"/>
<circle cx="502.25" cy="215.25" r="1.15"/>
<circle cx="507.00" cy="210.50" r="1.15"/>
<circle cx="511.75" cy="205.75" r="1.15"/>
<circle cx="469.00" cy="258.00" r="1.15"/>
<circle cx="473.75" cy="253.25" r="1.15"/>
<circle cx="478.50" cy="248.50" r="1.15"/>
<circle cx="483.25" cy="243.75" r="1.15"/>
<circle cx="488.00" cy="239.00" r="1.15"/>
<circle cx="492.75" cy="234.25" r="1.15"/>
<circle cx="497.50" cy="229.50" r="1.15"/>
<circle cx="502.25" cy="224.75" r="1.15"/>
<circle cx="507.00" cy="220.00" r="1.15"/>
<circle cx="511.75" cy="215.25" r="1.15"/>
<circle cx="478.50" cy="258.00" r="1.15"/>
<circle cx="483.25" cy="253.25" r="1.15"/>
<circle cx="488.00" cy="248.50" r="1.15"/>
<circle cx="492.75" cy="243.75" r="1.15"/>
<circle cx="497.50" cy="239.00" r="1.15"/>
<circle cx="502.25" cy="234.25" r="1.15"/>
<circle cx="507.00" cy="229.50" r="1.15"/>
<circle cx="511.75" cy="224.75" r="1.15"/>
<circle cx="488.00" cy="258.00" r="1.15"/>
<circle cx="492.75" cy="253.25" r="1.15"/>
<circle cx="497.50" cy="248.50" r="1.15"/>
<circle cx="502.25" cy="243.75" r="1.15"/>
<circle cx="507.00" cy="239.00" r="1.15"/>
<circle cx="511.75" cy="234.25" r="1.15"/>
<circle cx="497.50" cy="258.00" r="1.15"/>
<circle cx="502.25" cy="253.25" r="1.15"/>
<circle cx="507.00" cy="248.50" r="1.15"/>
<circle cx="511.75" cy="243.75" r="1.15"/>
<circle cx="507.00" cy="258.00" r="1.15"/>
<circle cx="511.75" cy="253.25" r="1.15"/>
</g>
<g id="bobbinL" clip-path="url(#cpHalfL)">
<path d="M232.5,242.5 L254.4,242.5 L254.4,196.2" stroke="#1c1c1c" stroke-width="1.9" fill="none" />
<line x1="232.50" y1="256.60" x2="380.00" y2="256.60" stroke="#1c1c1c" stroke-width="1.9" />
<rect x="254.40" y="196.20" width="7.60" height="17.10" stroke="#1c1c1c" stroke-width="1.9" fill="#fff" />
<rect x="263.00" y="198.40" width="15.70" height="14.10" fill="#929292"/>
<line x1="264.60" y1="200.40" x2="264.60" y2="207.00" stroke="#d6d6d6" stroke-width="0.75"/>
<line x1="266.00" y1="200.40" x2="266.00" y2="207.00" stroke="#d6d6d6" stroke-width="0.75"/>
<line x1="266.00" y1="200.80" x2="268.60" y2="200.80" stroke="#d6d6d6" stroke-width="0.75"/>
<line x1="266.00" y1="203.60" x2="268.00" y2="203.60" stroke="#d6d6d6" stroke-width="0.75"/>
<line x1="266.00" y1="206.60" x2="268.60" y2="206.60" stroke="#d6d6d6" stroke-width="0.75"/>
<line x1="271.60" y1="200.00" x2="271.60" y2="207.20" stroke="#d6d6d6" stroke-width="0.75"/>
<line x1="274.20" y1="200.00" x2="274.20" y2="207.20" stroke="#d6d6d6" stroke-width="0.75"/>
<line x1="276.20" y1="201.40" x2="276.20" y2="207.20" stroke="#d6d6d6" stroke-width="0.75"/>
<line x1="270.40" y1="201.80" x2="275.60" y2="201.80" stroke="#d6d6d6" stroke-width="0.75"/>
<line x1="270.40" y1="204.40" x2="277.20" y2="204.40" stroke="#d6d6d6" stroke-width="0.75"/>
<line x1="264.40" y1="209.90" x2="269.60" y2="209.90" stroke="#d6d6d6" stroke-width="1.6" stroke-dasharray="0.8 0.7"/>
<line x1="271.20" y1="209.90" x2="277.40" y2="209.90" stroke="#d6d6d6" stroke-width="1.6" stroke-dasharray="0.8 0.7"/>
<line x1="264.40" y1="210.90" x2="277.40" y2="210.90" stroke="#d6d6d6" stroke-width="0.6" stroke-dasharray="3 1.2"/>
<line x1="263.00" y1="198.40" x2="278.70" y2="198.40" stroke="#555" stroke-width="0.8" />
<line x1="254.40" y1="213.30" x2="279.30" y2="213.30" stroke="#1c1c1c" stroke-width="1.9" />
<rect x="304.00" y="196.20" width="8.00" height="17.10" stroke="#1c1c1c" stroke-width="1.9" fill="#fff" />
<rect x="312.70" y="198.40" width="15.50" height="14.10" fill="#929292"/>
<line x1="314.28" y1="200.40" x2="314.28" y2="207.00" stroke="#d6d6d6" stroke-width="0.75"/>
<line x1="315.66" y1="200.40" x2="315.66" y2="207.00" stroke="#d6d6d6" stroke-width="0.75"/>
<line x1="315.66" y1="200.80" x2="318.23" y2="200.80" stroke="#d6d6d6" stroke-width="0.75"/>
<line x1="315.66" y1="203.60" x2="317.64" y2="203.60" stroke="#d6d6d6" stroke-width="0.75"/>
<line x1="315.66" y1="206.60" x2="318.23" y2="206.60" stroke="#d6d6d6" stroke-width="0.75"/>
<line x1="321.19" y1="200.00" x2="321.19" y2="207.20" stroke="#d6d6d6" stroke-width="0.75"/>
<line x1="323.76" y1="200.00" x2="323.76" y2="207.20" stroke="#d6d6d6" stroke-width="0.75"/>
<line x1="325.73" y1="201.40" x2="325.73" y2="207.20" stroke="#d6d6d6" stroke-width="0.75"/>
<line x1="320.01" y1="201.80" x2="325.14" y2="201.80" stroke="#d6d6d6" stroke-width="0.75"/>
<line x1="320.01" y1="204.40" x2="326.72" y2="204.40" stroke="#d6d6d6" stroke-width="0.75"/>
<line x1="314.08" y1="209.90" x2="319.22" y2="209.90" stroke="#d6d6d6" stroke-width="1.6" stroke-dasharray="0.8 0.7"/>
<line x1="320.80" y1="209.90" x2="326.92" y2="209.90" stroke="#d6d6d6" stroke-width="1.6" stroke-dasharray="0.8 0.7"/>
<line x1="314.08" y1="210.90" x2="326.92" y2="210.90" stroke="#d6d6d6" stroke-width="0.6" stroke-dasharray="3 1.2"/>
<line x1="312.70" y1="198.40" x2="328.20" y2="198.40" stroke="#555" stroke-width="0.8" />
<line x1="304.00" y1="213.30" x2="328.80" y2="213.30" stroke="#1c1c1c" stroke-width="1.9" />
<rect x="353.00" y="196.20" width="8.30" height="17.10" stroke="#1c1c1c" stroke-width="1.9" fill="#fff" />
<rect x="362.00" y="198.40" width="18.00" height="14.10" fill="#929292"/>
<line x1="363.83" y1="200.40" x2="363.83" y2="207.00" stroke="#d6d6d6" stroke-width="0.75"/>
<line x1="365.44" y1="200.40" x2="365.44" y2="207.00" stroke="#d6d6d6" stroke-width="0.75"/>
<line x1="365.44" y1="200.80" x2="368.42" y2="200.80" stroke="#d6d6d6" stroke-width="0.75"/>
<line x1="365.44" y1="203.60" x2="367.73" y2="203.60" stroke="#d6d6d6" stroke-width="0.75"/>
<line x1="365.44" y1="206.60" x2="368.42" y2="206.60" stroke="#d6d6d6" stroke-width="0.75"/>
<line x1="371.86" y1="200.00" x2="371.86" y2="207.20" stroke="#d6d6d6" stroke-width="0.75"/>
<line x1="374.84" y1="200.00" x2="374.84" y2="207.20" stroke="#d6d6d6" stroke-width="0.75"/>
<line x1="377.13" y1="201.40" x2="377.13" y2="207.20" stroke="#d6d6d6" stroke-width="0.75"/>
<line x1="370.48" y1="201.80" x2="376.45" y2="201.80" stroke="#d6d6d6" stroke-width="0.75"/>
<line x1="370.48" y1="204.40" x2="378.28" y2="204.40" stroke="#d6d6d6" stroke-width="0.75"/>
<line x1="363.61" y1="209.90" x2="369.57" y2="209.90" stroke="#d6d6d6" stroke-width="1.6" stroke-dasharray="0.8 0.7"/>
<line x1="371.40" y1="209.90" x2="378.51" y2="209.90" stroke="#d6d6d6" stroke-width="1.6" stroke-dasharray="0.8 0.7"/>
<line x1="363.61" y1="210.90" x2="378.51" y2="210.90" stroke="#d6d6d6" stroke-width="0.6" stroke-dasharray="3 1.2"/>
<line x1="362.00" y1="198.40" x2="380.00" y2="198.40" stroke="#555" stroke-width="0.8" />
<line x1="353.00" y1="213.30" x2="380.60" y2="213.30" stroke="#1c1c1c" stroke-width="1.9" />
<path d="M279.3,213.3 L279.3,196.2 L287.0,196.2 L287.0,229.7 L304.0,229.7 L304.0,202.4 L287.0,202.4" stroke="#1c1c1c" stroke-width="1.9" fill="none" />
<rect x="287.90" y="203.4" width="15.20" height="11.6" fill="#fff"/>
<rect x="287.90" y="215.20" width="15.20" height="13.60" fill="#929292"/>
<line x1="289.45" y1="217.20" x2="289.45" y2="223.80" stroke="#d6d6d6" stroke-width="0.75"/>
<line x1="290.80" y1="217.20" x2="290.80" y2="223.80" stroke="#d6d6d6" stroke-width="0.75"/>
<line x1="290.80" y1="217.60" x2="293.32" y2="217.60" stroke="#d6d6d6" stroke-width="0.75"/>
<line x1="290.80" y1="220.40" x2="292.74" y2="220.40" stroke="#d6d6d6" stroke-width="0.75"/>
<line x1="290.80" y1="223.40" x2="293.32" y2="223.40" stroke="#d6d6d6" stroke-width="0.75"/>
<line x1="296.23" y1="216.80" x2="296.23" y2="224.00" stroke="#d6d6d6" stroke-width="0.75"/>
<line x1="298.74" y1="216.80" x2="298.74" y2="224.00" stroke="#d6d6d6" stroke-width="0.75"/>
<line x1="300.68" y1="218.20" x2="300.68" y2="224.00" stroke="#d6d6d6" stroke-width="0.75"/>
<line x1="295.06" y1="218.60" x2="300.10" y2="218.60" stroke="#d6d6d6" stroke-width="0.75"/>
<line x1="295.06" y1="221.20" x2="301.65" y2="221.20" stroke="#d6d6d6" stroke-width="0.75"/>
<line x1="289.26" y1="226.20" x2="294.29" y2="226.20" stroke="#d6d6d6" stroke-width="1.6" stroke-dasharray="0.8 0.7"/>
<line x1="295.84" y1="226.20" x2="301.84" y2="226.20" stroke="#d6d6d6" stroke-width="1.6" stroke-dasharray="0.8 0.7"/>
<line x1="289.26" y1="227.20" x2="301.84" y2="227.20" stroke="#d6d6d6" stroke-width="0.6" stroke-dasharray="3 1.2"/>
<line x1="287.90" y1="215.20" x2="303.10" y2="215.20" stroke="#555" stroke-width="0.8" />
<path d="M328.90000000000003,213.3 L328.90000000000003,196.2 L336.3,196.2 L336.3,229.7 L353.0,229.7 L353.0,202.4 L336.3,202.4" stroke="#1c1c1c" stroke-width="1.9" fill="none" />
<rect x="337.20" y="203.4" width="14.90" height="11.6" fill="#fff"/>
<rect x="337.20" y="215.20" width="14.90" height="13.60" fill="#929292"/>
<line x1="338.72" y1="217.20" x2="338.72" y2="223.80" stroke="#d6d6d6" stroke-width="0.75"/>
<line x1="340.05" y1="217.20" x2="340.05" y2="223.80" stroke="#d6d6d6" stroke-width="0.75"/>
<line x1="340.05" y1="217.60" x2="342.51" y2="217.60" stroke="#d6d6d6" stroke-width="0.75"/>
<line x1="340.05" y1="220.40" x2="341.95" y2="220.40" stroke="#d6d6d6" stroke-width="0.75"/>
<line x1="340.05" y1="223.40" x2="342.51" y2="223.40" stroke="#d6d6d6" stroke-width="0.75"/>
<line x1="345.36" y1="216.80" x2="345.36" y2="224.00" stroke="#d6d6d6" stroke-width="0.75"/>
<line x1="347.83" y1="216.80" x2="347.83" y2="224.00" stroke="#d6d6d6" stroke-width="0.75"/>
<line x1="349.73" y1="218.20" x2="349.73" y2="224.00" stroke="#d6d6d6" stroke-width="0.75"/>
<line x1="344.22" y1="218.60" x2="349.16" y2="218.60" stroke="#d6d6d6" stroke-width="0.75"/>
<line x1="344.22" y1="221.20" x2="350.68" y2="221.20" stroke="#d6d6d6" stroke-width="0.75"/>
<line x1="338.53" y1="226.20" x2="343.46" y2="226.20" stroke="#d6d6d6" stroke-width="1.6" stroke-dasharray="0.8 0.7"/>
<line x1="344.98" y1="226.20" x2="350.87" y2="226.20" stroke="#d6d6d6" stroke-width="1.6" stroke-dasharray="0.8 0.7"/>
<line x1="338.53" y1="227.20" x2="350.87" y2="227.20" stroke="#d6d6d6" stroke-width="0.6" stroke-dasharray="3 1.2"/>
<line x1="337.20" y1="215.20" x2="352.10" y2="215.20" stroke="#555" stroke-width="0.8" />
</g>
<g id="bobbinR" clip-path="url(#cpHalfR)">
<line x1="390.00" y1="256.70" x2="508.30" y2="256.70" stroke="#1c1c1c" stroke-width="1.9" />
<path d="M487,213.5 L487,242.8 L508.3,242.8" stroke="#1c1c1c" stroke-width="1.9" fill="none" />
<rect x="390" y="203.3" width="14.2" height="11.8" fill="#fff"/>
<rect x="390.00" y="215.60" width="13.40" height="13.00" fill="#929292"/>
<line x1="391.37" y1="217.60" x2="391.37" y2="224.20" stroke="#d6d6d6" stroke-width="0.75"/>
<line x1="392.56" y1="217.60" x2="392.56" y2="224.20" stroke="#d6d6d6" stroke-width="0.75"/>
<line x1="392.56" y1="218.00" x2="394.78" y2="218.00" stroke="#d6d6d6" stroke-width="0.75"/>
<line x1="392.56" y1="220.80" x2="394.27" y2="220.80" stroke="#d6d6d6" stroke-width="0.75"/>
<line x1="392.56" y1="223.80" x2="394.78" y2="223.80" stroke="#d6d6d6" stroke-width="0.75"/>
<line x1="397.34" y1="217.20" x2="397.34" y2="224.40" stroke="#d6d6d6" stroke-width="0.75"/>
<line x1="399.56" y1="217.20" x2="399.56" y2="224.40" stroke="#d6d6d6" stroke-width="0.75"/>
<line x1="401.27" y1="218.60" x2="401.27" y2="224.40" stroke="#d6d6d6" stroke-width="0.75"/>
<line x1="396.32" y1="219.00" x2="400.75" y2="219.00" stroke="#d6d6d6" stroke-width="0.75"/>
<line x1="396.32" y1="221.60" x2="402.12" y2="221.60" stroke="#d6d6d6" stroke-width="0.75"/>
<line x1="391.19" y1="226.00" x2="395.63" y2="226.00" stroke="#d6d6d6" stroke-width="1.6" stroke-dasharray="0.8 0.7"/>
<line x1="397.00" y1="226.00" x2="402.29" y2="226.00" stroke="#d6d6d6" stroke-width="1.6" stroke-dasharray="0.8 0.7"/>
<line x1="391.19" y1="227.00" x2="402.29" y2="227.00" stroke="#d6d6d6" stroke-width="0.6" stroke-dasharray="3 1.2"/>
<line x1="390.00" y1="215.60" x2="403.40" y2="215.60" stroke="#555" stroke-width="0.8" />
<path d="M390,203.3 L404.2,203.3 M390,230 L404.2,230" stroke="#1c1c1c" stroke-width="1.9" fill="none" />
<path d="M404.2,230 L404.2,196.3 L411.3,196.3 L411.3,213.5" stroke="#1c1c1c" stroke-width="1.9" fill="none" />
<rect x="412.00" y="198.40" width="16.40" height="14.20" fill="#929292"/>
<line x1="413.67" y1="200.40" x2="413.67" y2="207.00" stroke="#d6d6d6" stroke-width="0.75"/>
<line x1="415.13" y1="200.40" x2="415.13" y2="207.00" stroke="#d6d6d6" stroke-width="0.75"/>
<line x1="415.13" y1="200.80" x2="417.85" y2="200.80" stroke="#d6d6d6" stroke-width="0.75"/>
<line x1="415.13" y1="203.60" x2="417.22" y2="203.60" stroke="#d6d6d6" stroke-width="0.75"/>
<line x1="415.13" y1="206.60" x2="417.85" y2="206.60" stroke="#d6d6d6" stroke-width="0.75"/>
<line x1="420.98" y1="200.00" x2="420.98" y2="207.20" stroke="#d6d6d6" stroke-width="0.75"/>
<line x1="423.70" y1="200.00" x2="423.70" y2="207.20" stroke="#d6d6d6" stroke-width="0.75"/>
<line x1="425.79" y1="201.40" x2="425.79" y2="207.20" stroke="#d6d6d6" stroke-width="0.75"/>
<line x1="419.73" y1="201.80" x2="425.16" y2="201.80" stroke="#d6d6d6" stroke-width="0.75"/>
<line x1="419.73" y1="204.40" x2="426.83" y2="204.40" stroke="#d6d6d6" stroke-width="0.75"/>
<line x1="413.46" y1="210.00" x2="418.89" y2="210.00" stroke="#d6d6d6" stroke-width="1.6" stroke-dasharray="0.8 0.7"/>
<line x1="420.57" y1="210.00" x2="427.04" y2="210.00" stroke="#d6d6d6" stroke-width="1.6" stroke-dasharray="0.8 0.7"/>
<line x1="413.46" y1="211.00" x2="427.04" y2="211.00" stroke="#d6d6d6" stroke-width="0.6" stroke-dasharray="3 1.2"/>
<line x1="412.00" y1="198.40" x2="428.40" y2="198.40" stroke="#555" stroke-width="0.8" />
<rect x="429.20" y="196.30" width="9.10" height="17.20" stroke="#1c1c1c" stroke-width="1.9" fill="#fff" />
<line x1="411.30" y1="213.50" x2="429.20" y2="213.50" stroke="#1c1c1c" stroke-width="1.9" />
<path d="M454.2,230 L454.2,196.3 L461.7,196.3 L461.7,213.5" stroke="#1c1c1c" stroke-width="1.9" fill="none" />
<rect x="462.40" y="198.40" width="15.60" height="14.20" fill="#929292"/>
<line x1="463.99" y1="200.40" x2="463.99" y2="207.00" stroke="#d6d6d6" stroke-width="0.75"/>
<line x1="465.38" y1="200.40" x2="465.38" y2="207.00" stroke="#d6d6d6" stroke-width="0.75"/>
<line x1="465.38" y1="200.80" x2="467.96" y2="200.80" stroke="#d6d6d6" stroke-width="0.75"/>
<line x1="465.38" y1="203.60" x2="467.37" y2="203.60" stroke="#d6d6d6" stroke-width="0.75"/>
<line x1="465.38" y1="206.60" x2="467.96" y2="206.60" stroke="#d6d6d6" stroke-width="0.75"/>
<line x1="470.95" y1="200.00" x2="470.95" y2="207.20" stroke="#d6d6d6" stroke-width="0.75"/>
<line x1="473.53" y1="200.00" x2="473.53" y2="207.20" stroke="#d6d6d6" stroke-width="0.75"/>
<line x1="475.52" y1="201.40" x2="475.52" y2="207.20" stroke="#d6d6d6" stroke-width="0.75"/>
<line x1="469.75" y1="201.80" x2="474.92" y2="201.80" stroke="#d6d6d6" stroke-width="0.75"/>
<line x1="469.75" y1="204.40" x2="476.51" y2="204.40" stroke="#d6d6d6" stroke-width="0.75"/>
<line x1="463.79" y1="210.00" x2="468.96" y2="210.00" stroke="#d6d6d6" stroke-width="1.6" stroke-dasharray="0.8 0.7"/>
<line x1="470.55" y1="210.00" x2="476.71" y2="210.00" stroke="#d6d6d6" stroke-width="1.6" stroke-dasharray="0.8 0.7"/>
<line x1="463.79" y1="211.00" x2="476.71" y2="211.00" stroke="#d6d6d6" stroke-width="0.6" stroke-dasharray="3 1.2"/>
<line x1="462.40" y1="198.40" x2="478.00" y2="198.40" stroke="#555" stroke-width="0.8" />
<rect x="478.70" y="196.30" width="8.30" height="17.20" stroke="#1c1c1c" stroke-width="1.9" fill="#fff" />
<line x1="461.70" y1="213.50" x2="478.70" y2="213.50" stroke="#1c1c1c" stroke-width="1.9" />
<rect x="439.2" y="204.2" width="14.1" height="10.8" fill="#fff"/>
<rect x="439.20" y="215.20" width="14.10" height="13.80" fill="#929292"/>
<line x1="440.64" y1="217.20" x2="440.64" y2="223.80" stroke="#d6d6d6" stroke-width="0.75"/>
<line x1="441.89" y1="217.20" x2="441.89" y2="223.80" stroke="#d6d6d6" stroke-width="0.75"/>
<line x1="441.89" y1="217.60" x2="444.23" y2="217.60" stroke="#d6d6d6" stroke-width="0.75"/>
<line x1="441.89" y1="220.40" x2="443.69" y2="220.40" stroke="#d6d6d6" stroke-width="0.75"/>
<line x1="441.89" y1="223.40" x2="444.23" y2="223.40" stroke="#d6d6d6" stroke-width="0.75"/>
<line x1="446.92" y1="216.80" x2="446.92" y2="224.00" stroke="#d6d6d6" stroke-width="0.75"/>
<line x1="449.26" y1="216.80" x2="449.26" y2="224.00" stroke="#d6d6d6" stroke-width="0.75"/>
<line x1="451.05" y1="218.20" x2="451.05" y2="224.00" stroke="#d6d6d6" stroke-width="0.75"/>
<line x1="445.85" y1="218.60" x2="450.52" y2="218.60" stroke="#d6d6d6" stroke-width="0.75"/>
<line x1="445.85" y1="221.20" x2="451.95" y2="221.20" stroke="#d6d6d6" stroke-width="0.75"/>
<line x1="440.46" y1="226.40" x2="445.13" y2="226.40" stroke="#d6d6d6" stroke-width="1.6" stroke-dasharray="0.8 0.7"/>
<line x1="446.56" y1="226.40" x2="452.13" y2="226.40" stroke="#d6d6d6" stroke-width="1.6" stroke-dasharray="0.8 0.7"/>
<line x1="440.46" y1="227.40" x2="452.13" y2="227.40" stroke="#d6d6d6" stroke-width="0.6" stroke-dasharray="3 1.2"/>
<line x1="439.20" y1="215.20" x2="453.30" y2="215.20" stroke="#555" stroke-width="0.8" />
<path d="M438.3,213.5 L438.3,230 L454.2,230 M438.3,203.3 L454.2,203.3" stroke="#1c1c1c" stroke-width="1.9" fill="none" />
</g>
<path clip-path="url(#cpCoreL)" fill="#161616" d="M204.4,286.3h2.2v2.2h-2.2zM206.7,284.0h2.2v2.2h-2.2zM204.9,304.9h2.2v2.2h-2.2zM207.2,302.6h2.2v2.2h-2.2zM209.5,300.3h2.2v2.2h-2.2zM211.9,297.9h2.2v2.2h-2.2zM214.2,295.6h2.2v2.2h-2.2zM216.5,293.3h2.2v2.2h-2.2zM218.8,291.0h2.2v2.2h-2.2zM221.2,288.6h2.2v2.2h-2.2zM223.5,286.3h2.2v2.2h-2.2zM225.8,284.0h2.2v2.2h-2.2zM205.3,323.6h2.2v2.2h-2.2zM207.7,321.2h2.2v2.2h-2.2zM210.0,318.9h2.2v2.2h-2.2zM212.3,316.6h2.2v2.2h-2.2zM214.6,314.3h2.2v2.2h-2.2zM217.0,311.9h2.2v2.2h-2.2zM219.3,309.6h2.2v2.2h-2.2zM221.6,307.3h2.2v2.2h-2.2zM224.0,304.9h2.2v2.2h-2.2zM226.3,302.6h2.2v2.2h-2.2zM228.6,300.3h2.2v2.2h-2.2zM231.0,297.9h2.2v2.2h-2.2zM233.3,295.6h2.2v2.2h-2.2zM235.6,293.3h2.2v2.2h-2.2zM237.9,291.0h2.2v2.2h-2.2zM240.3,288.6h2.2v2.2h-2.2zM242.6,286.3h2.2v2.2h-2.2zM244.9,284.0h2.2v2.2h-2.2zM215.1,332.9h2.2v2.2h-2.2zM217.4,330.6h2.2v2.2h-2.2zM219.8,328.2h2.2v2.2h-2.2zM222.1,325.9h2.2v2.2h-2.2zM224.4,323.6h2.2v2.2h-2.2zM226.8,321.2h2.2v2.2h-2.2zM229.1,318.9h2.2v2.2h-2.2zM231.4,316.6h2.2v2.2h-2.2zM233.7,314.3h2.2v2.2h-2.2zM236.1,311.9h2.2v2.2h-2.2zM238.4,309.6h2.2v2.2h-2.2zM240.7,307.3h2.2v2.2h-2.2zM243.1,304.9h2.2v2.2h-2.2zM245.4,302.6h2.2v2.2h-2.2zM247.7,300.3h2.2v2.2h-2.2zM250.1,297.9h2.2v2.2h-2.2zM252.4,295.6h2.2v2.2h-2.2zM254.7,293.3h2.2v2.2h-2.2zM257.0,291.0h2.2v2.2h-2.2zM259.4,288.6h2.2v2.2h-2.2zM261.7,286.3h2.2v2.2h-2.2zM264.0,284.0h2.2v2.2h-2.2zM234.2,332.9h2.2v2.2h-2.2zM236.5,330.6h2.2v2.2h-2.2zM238.9,328.2h2.2v2.2h-2.2zM241.2,325.9h2.2v2.2h-2.2zM243.5,323.6h2.2v2.2h-2.2zM245.9,321.2h2.2v2.2h-2.2zM248.2,318.9h2.2v2.2h-2.2zM250.5,316.6h2.2v2.2h-2.2zM252.8,314.3h2.2v2.2h-2.2zM255.2,311.9h2.2v2.2h-2.2zM257.5,309.6h2.2v2.2h-2.2zM259.8,307.3h2.2v2.2h-2.2zM262.2,304.9h2.2v2.2h-2.2zM264.5,302.6h2.2v2.2h-2.2zM266.8,300.3h2.2v2.2h-2.2zM269.2,297.9h2.2v2.2h-2.2zM271.5,295.6h2.2v2.2h-2.2zM273.8,293.3h2.2v2.2h-2.2zM276.1,291.0h2.2v2.2h-2.2zM278.5,288.6h2.2v2.2h-2.2zM280.8,286.3h2.2v2.2h-2.2zM283.1,284.0h2.2v2.2h-2.2zM253.3,332.9h2.2v2.2h-2.2zM255.6,330.6h2.2v2.2h-2.2zM258.0,328.2h2.2v2.2h-2.2zM260.3,325.9h2.2v2.2h-2.2zM262.6,323.6h2.2v2.2h-2.2zM264.9,321.3h2.2v2.2h-2.2zM267.3,318.9h2.2v2.2h-2.2zM269.6,316.6h2.2v2.2h-2.2zM271.9,314.3h2.2v2.2h-2.2zM274.3,311.9h2.2v2.2h-2.2zM276.6,309.6h2.2v2.2h-2.2zM278.9,307.3h2.2v2.2h-2.2zM281.3,304.9h2.2v2.2h-2.2zM283.6,302.6h2.2v2.2h-2.2zM285.9,300.3h2.2v2.2h-2.2zM288.2,298.0h2.2v2.2h-2.2zM290.6,295.6h2.2v2.2h-2.2zM292.9,293.3h2.2v2.2h-2.2zM295.2,291.0h2.2v2.2h-2.2zM297.6,288.6h2.2v2.2h-2.2zM299.9,286.3h2.2v2.2h-2.2zM302.2,284.0h2.2v2.2h-2.2zM272.4,332.9h2.2v2.2h-2.2zM274.7,330.6h2.2v2.2h-2.2zM277.1,328.2h2.2v2.2h-2.2zM279.4,325.9h2.2v2.2h-2.2zM281.7,323.6h2.2v2.2h-2.2zM284.1,321.3h2.2v2.2h-2.2zM286.4,318.9h2.2v2.2h-2.2zM288.7,316.6h2.2v2.2h-2.2zM291.0,314.3h2.2v2.2h-2.2zM293.4,311.9h2.2v2.2h-2.2zM295.7,309.6h2.2v2.2h-2.2zM298.0,307.3h2.2v2.2h-2.2zM300.4,304.9h2.2v2.2h-2.2zM302.7,302.6h2.2v2.2h-2.2zM305.0,300.3h2.2v2.2h-2.2zM307.3,298.0h2.2v2.2h-2.2zM309.7,295.6h2.2v2.2h-2.2zM312.0,293.3h2.2v2.2h-2.2zM314.3,291.0h2.2v2.2h-2.2zM316.7,288.6h2.2v2.2h-2.2zM319.0,286.3h2.2v2.2h-2.2zM321.3,284.0h2.2v2.2h-2.2zM291.5,332.9h2.2v2.2h-2.2zM293.8,330.6h2.2v2.2h-2.2zM296.2,328.2h2.2v2.2h-2.2zM298.5,325.9h2.2v2.2h-2.2zM300.8,323.6h2.2v2.2h-2.2zM303.2,321.3h2.2v2.2h-2.2zM305.5,318.9h2.2v2.2h-2.2zM307.8,316.6h2.2v2.2h-2.2zM310.1,314.3h2.2v2.2h-2.2zM312.5,311.9h2.2v2.2h-2.2zM314.8,309.6h2.2v2.2h-2.2zM317.1,307.3h2.2v2.2h-2.2zM319.5,304.9h2.2v2.2h-2.2zM321.8,302.6h2.2v2.2h-2.2zM324.1,300.3h2.2v2.2h-2.2zM326.4,298.0h2.2v2.2h-2.2zM328.8,295.6h2.2v2.2h-2.2zM331.1,293.3h2.2v2.2h-2.2zM333.4,291.0h2.2v2.2h-2.2zM335.8,288.6h2.2v2.2h-2.2zM338.1,286.3h2.2v2.2h-2.2zM340.4,284.0h2.2v2.2h-2.2zM310.6,332.9h2.2v2.2h-2.2zM312.9,330.6h2.2v2.2h-2.2zM315.3,328.2h2.2v2.2h-2.2zM317.6,325.9h2.2v2.2h-2.2zM319.9,323.6h2.2v2.2h-2.2zM322.3,321.3h2.2v2.2h-2.2zM324.6,318.9h2.2v2.2h-2.2zM326.9,316.6h2.2v2.2h-2.2zM329.2,314.3h2.2v2.2h-2.2zM331.6,311.9h2.2v2.2h-2.2zM333.9,309.6h2.2v2.2h-2.2zM336.2,307.3h2.2v2.2h-2.2zM338.6,304.9h2.2v2.2h-2.2zM340.9,302.6h2.2v2.2h-2.2zM343.2,300.3h2.2v2.2h-2.2zM345.5,298.0h2.2v2.2h-2.2zM347.9,295.6h2.2v2.2h-2.2zM350.2,293.3h2.2v2.2h-2.2zM352.5,291.0h2.2v2.2h-2.2zM354.9,288.6h2.2v2.2h-2.2zM357.2,286.3h2.2v2.2h-2.2zM359.5,284.0h2.2v2.2h-2.2zM329.7,332.9h2.2v2.2h-2.2zM332.0,330.6h2.2v2.2h-2.2zM334.4,328.2h2.2v2.2h-2.2zM336.7,325.9h2.2v2.2h-2.2zM339.0,323.6h2.2v2.2h-2.2zM341.4,321.3h2.2v2.2h-2.2zM343.7,318.9h2.2v2.2h-2.2zM346.0,316.6h2.2v2.2h-2.2zM348.3,314.3h2.2v2.2h-2.2zM350.7,311.9h2.2v2.2h-2.2zM353.0,309.6h2.2v2.2h-2.2zM355.3,307.3h2.2v2.2h-2.2zM357.7,304.9h2.2v2.2h-2.2zM360.0,302.6h2.2v2.2h-2.2zM362.3,300.3h2.2v2.2h-2.2zM364.6,298.0h2.2v2.2h-2.2zM367.0,295.6h2.2v2.2h-2.2zM369.3,293.3h2.2v2.2h-2.2zM371.6,291.0h2.2v2.2h-2.2zM374.0,288.6h2.2v2.2h-2.2zM376.3,286.3h2.2v2.2h-2.2zM348.8,332.9h2.2v2.2h-2.2zM351.1,330.6h2.2v2.2h-2.2zM353.5,328.2h2.2v2.2h-2.2zM355.8,325.9h2.2v2.2h-2.2zM358.1,323.6h2.2v2.2h-2.2zM360.5,321.3h2.2v2.2h-2.2zM362.8,318.9h2.2v2.2h-2.2zM365.1,316.6h2.2v2.2h-2.2zM367.4,314.3h2.2v2.2h-2.2zM369.8,311.9h2.2v2.2h-2.2zM372.1,309.6h2.2v2.2h-2.2zM374.4,307.3h2.2v2.2h-2.2zM376.8,304.9h2.2v2.2h-2.2zM367.9,332.9h2.2v2.2h-2.2zM370.2,330.6h2.2v2.2h-2.2zM372.6,328.2h2.2v2.2h-2.2zM374.9,325.9h2.2v2.2h-2.2zM377.2,323.6h2.2v2.2h-2.2z"/>
<path clip-path="url(#cpCoreR)" fill="#161616" d="M390.9,286.3h2.2v2.2h-2.2zM393.3,284.0h2.2v2.2h-2.2zM391.4,304.9h2.2v2.2h-2.2zM393.7,302.6h2.2v2.2h-2.2zM396.1,300.3h2.2v2.2h-2.2zM398.4,298.0h2.2v2.2h-2.2zM400.7,295.6h2.2v2.2h-2.2zM403.1,293.3h2.2v2.2h-2.2zM405.4,291.0h2.2v2.2h-2.2zM407.7,288.6h2.2v2.2h-2.2zM410.0,286.3h2.2v2.2h-2.2zM412.4,284.0h2.2v2.2h-2.2zM391.9,323.6h2.2v2.2h-2.2zM394.2,321.3h2.2v2.2h-2.2zM396.5,318.9h2.2v2.2h-2.2zM398.9,316.6h2.2v2.2h-2.2zM401.2,314.3h2.2v2.2h-2.2zM403.5,311.9h2.2v2.2h-2.2zM405.8,309.6h2.2v2.2h-2.2zM408.2,307.3h2.2v2.2h-2.2zM410.5,304.9h2.2v2.2h-2.2zM412.8,302.6h2.2v2.2h-2.2zM415.2,300.3h2.2v2.2h-2.2zM417.5,298.0h2.2v2.2h-2.2zM419.8,295.6h2.2v2.2h-2.2zM422.2,293.3h2.2v2.2h-2.2zM424.5,291.0h2.2v2.2h-2.2zM426.8,288.6h2.2v2.2h-2.2zM429.1,286.3h2.2v2.2h-2.2zM431.5,284.0h2.2v2.2h-2.2zM401.6,332.9h2.2v2.2h-2.2zM404.0,330.6h2.2v2.2h-2.2zM406.3,328.2h2.2v2.2h-2.2zM408.6,325.9h2.2v2.2h-2.2zM411.0,323.6h2.2v2.2h-2.2zM413.3,321.3h2.2v2.2h-2.2zM415.6,318.9h2.2v2.2h-2.2zM418.0,316.6h2.2v2.2h-2.2zM420.3,314.3h2.2v2.2h-2.2zM422.6,311.9h2.2v2.2h-2.2zM424.9,309.6h2.2v2.2h-2.2zM427.3,307.3h2.2v2.2h-2.2zM429.6,304.9h2.2v2.2h-2.2zM431.9,302.6h2.2v2.2h-2.2zM434.3,300.3h2.2v2.2h-2.2zM436.6,298.0h2.2v2.2h-2.2zM438.9,295.6h2.2v2.2h-2.2zM441.3,293.3h2.2v2.2h-2.2zM443.6,291.0h2.2v2.2h-2.2zM445.9,288.6h2.2v2.2h-2.2zM448.2,286.3h2.2v2.2h-2.2zM450.6,284.0h2.2v2.2h-2.2zM420.8,332.9h2.2v2.2h-2.2zM423.1,330.6h2.2v2.2h-2.2zM425.4,328.2h2.2v2.2h-2.2zM427.7,325.9h2.2v2.2h-2.2zM430.1,323.6h2.2v2.2h-2.2zM432.4,321.3h2.2v2.2h-2.2zM434.7,318.9h2.2v2.2h-2.2zM437.1,316.6h2.2v2.2h-2.2zM439.4,314.3h2.2v2.2h-2.2zM441.7,311.9h2.2v2.2h-2.2zM444.0,309.6h2.2v2.2h-2.2zM446.4,307.3h2.2v2.2h-2.2zM448.7,304.9h2.2v2.2h-2.2zM451.0,302.6h2.2v2.2h-2.2zM453.4,300.3h2.2v2.2h-2.2zM455.7,298.0h2.2v2.2h-2.2zM458.0,295.6h2.2v2.2h-2.2zM460.4,293.3h2.2v2.2h-2.2zM462.7,291.0h2.2v2.2h-2.2zM465.0,288.6h2.2v2.2h-2.2zM467.3,286.3h2.2v2.2h-2.2zM469.7,284.0h2.2v2.2h-2.2zM439.9,332.9h2.2v2.2h-2.2zM442.2,330.6h2.2v2.2h-2.2zM444.5,328.2h2.2v2.2h-2.2zM446.8,325.9h2.2v2.2h-2.2zM449.2,323.6h2.2v2.2h-2.2zM451.5,321.3h2.2v2.2h-2.2zM453.8,318.9h2.2v2.2h-2.2zM456.2,316.6h2.2v2.2h-2.2zM458.5,314.3h2.2v2.2h-2.2zM460.8,311.9h2.2v2.2h-2.2zM463.1,309.6h2.2v2.2h-2.2zM465.5,307.3h2.2v2.2h-2.2zM467.8,304.9h2.2v2.2h-2.2zM470.1,302.6h2.2v2.2h-2.2zM472.5,300.3h2.2v2.2h-2.2zM474.8,298.0h2.2v2.2h-2.2zM477.1,295.6h2.2v2.2h-2.2zM479.5,293.3h2.2v2.2h-2.2zM481.8,291.0h2.2v2.2h-2.2zM484.1,288.6h2.2v2.2h-2.2zM486.4,286.3h2.2v2.2h-2.2zM488.8,284.0h2.2v2.2h-2.2zM459.0,332.9h2.2v2.2h-2.2zM461.3,330.6h2.2v2.2h-2.2zM463.6,328.2h2.2v2.2h-2.2zM465.9,325.9h2.2v2.2h-2.2zM468.3,323.6h2.2v2.2h-2.2zM470.6,321.3h2.2v2.2h-2.2zM472.9,318.9h2.2v2.2h-2.2zM475.3,316.6h2.2v2.2h-2.2zM477.6,314.3h2.2v2.2h-2.2zM479.9,311.9h2.2v2.2h-2.2zM482.2,309.6h2.2v2.2h-2.2zM484.6,307.3h2.2v2.2h-2.2zM486.9,304.9h2.2v2.2h-2.2zM489.2,302.6h2.2v2.2h-2.2zM491.6,300.3h2.2v2.2h-2.2zM493.9,298.0h2.2v2.2h-2.2zM496.2,295.6h2.2v2.2h-2.2zM498.6,293.3h2.2v2.2h-2.2zM500.9,291.0h2.2v2.2h-2.2zM503.2,288.6h2.2v2.2h-2.2zM505.5,286.3h2.2v2.2h-2.2zM507.9,284.0h2.2v2.2h-2.2zM478.1,332.9h2.2v2.2h-2.2zM480.4,330.6h2.2v2.2h-2.2zM482.7,328.2h2.2v2.2h-2.2zM485.0,325.9h2.2v2.2h-2.2zM487.4,323.6h2.2v2.2h-2.2zM489.7,321.3h2.2v2.2h-2.2zM492.0,318.9h2.2v2.2h-2.2zM494.4,316.6h2.2v2.2h-2.2zM496.7,314.3h2.2v2.2h-2.2zM499.0,311.9h2.2v2.2h-2.2zM501.3,309.6h2.2v2.2h-2.2zM503.7,307.3h2.2v2.2h-2.2zM506.0,304.9h2.2v2.2h-2.2zM508.3,302.6h2.2v2.2h-2.2zM510.7,300.3h2.2v2.2h-2.2zM513.0,298.0h2.2v2.2h-2.2zM515.3,295.6h2.2v2.2h-2.2zM517.7,293.3h2.2v2.2h-2.2zM520.0,291.0h2.2v2.2h-2.2zM522.3,288.6h2.2v2.2h-2.2zM524.7,286.3h2.2v2.2h-2.2zM527.0,284.0h2.2v2.2h-2.2zM497.2,332.9h2.2v2.2h-2.2zM499.5,330.6h2.2v2.2h-2.2zM501.8,328.2h2.2v2.2h-2.2zM504.1,325.9h2.2v2.2h-2.2zM506.5,323.6h2.2v2.2h-2.2zM508.8,321.3h2.2v2.2h-2.2zM511.1,318.9h2.2v2.2h-2.2zM513.5,316.6h2.2v2.2h-2.2zM515.8,314.3h2.2v2.2h-2.2zM518.1,311.9h2.2v2.2h-2.2zM520.5,309.6h2.2v2.2h-2.2zM522.8,307.3h2.2v2.2h-2.2zM525.1,304.9h2.2v2.2h-2.2zM527.4,302.6h2.2v2.2h-2.2zM529.8,300.3h2.2v2.2h-2.2zM532.1,297.9h2.2v2.2h-2.2zM516.3,332.9h2.2v2.2h-2.2zM518.6,330.6h2.2v2.2h-2.2zM520.9,328.2h2.2v2.2h-2.2zM523.2,325.9h2.2v2.2h-2.2zM525.6,323.6h2.2v2.2h-2.2zM527.9,321.2h2.2v2.2h-2.2zM530.2,318.9h2.2v2.2h-2.2zM532.6,316.6h2.2v2.2h-2.2z"/>
<g id="core">
<path d="M374.3,285.2 L208.4,285.2 L208.4,332.0 L366.0,332.0" stroke="#1c1c1c" stroke-width="1.9" fill="none" />
<path d="M397.4,285.2 L531.8,285.2 L531.8,332.0 L394.7,332.0" stroke="#1c1c1c" stroke-width="1.9" fill="none" />
<path d="M208.4,285.2 L196.9,285.2 L196.9,316.7 L208.4,316.7" stroke="#1c1c1c" stroke-width="1.9" fill="none" />
<path d="M531.8,285.2 L543.7,285.2 L543.7,316.7 L531.8,316.7" stroke="#1c1c1c" stroke-width="1.9" fill="none" />
</g>
<line x1="221.50" y1="253.50" x2="221.50" y2="303.50" stroke="#2e2e2e" stroke-width="0.8" />
<line x1="198.00" y1="296.50" x2="251.00" y2="296.50" stroke="#2e2e2e" stroke-width="0.8" />
<path d="M222.6,296.8 L229.3,294.9 L229.3,298.7 Z" fill="#1c1c1c"/>
<g id="lamL" clip-path="url(#cpHalfL)">
<rect x="262.10" y="332.00" width="16.80" height="128.60" fill="#fbfbfb"/>
<line x1="265.50" y1="332.00" x2="265.50" y2="460.60" stroke="#6a6a6a" stroke-width="1.05" />
<line x1="268.40" y1="332.00" x2="268.40" y2="460.60" stroke="#6a6a6a" stroke-width="1.05" />
<line x1="272.40" y1="332.00" x2="272.40" y2="460.60" stroke="#6a6a6a" stroke-width="1.05" />
<line x1="275.50" y1="332.00" x2="275.50" y2="460.60" stroke="#6a6a6a" stroke-width="1.05" />
<line x1="262.10" y1="460.60" x2="278.90" y2="460.60" stroke="#1c1c1c" stroke-width="1.9" />
<rect x="286.90" y="332.00" width="17.10" height="128.60" fill="#fbfbfb"/>
<line x1="290.30" y1="332.00" x2="290.30" y2="460.60" stroke="#6a6a6a" stroke-width="1.05" />
<line x1="293.20" y1="332.00" x2="293.20" y2="460.60" stroke="#6a6a6a" stroke-width="1.05" />
<line x1="297.20" y1="332.00" x2="297.20" y2="460.60" stroke="#6a6a6a" stroke-width="1.05" />
<line x1="300.30" y1="332.00" x2="300.30" y2="460.60" stroke="#6a6a6a" stroke-width="1.05" />
<line x1="286.90" y1="460.60" x2="304.00" y2="460.60" stroke="#1c1c1c" stroke-width="1.9" />
<rect x="311.80" y="332.00" width="16.80" height="128.60" fill="#fbfbfb"/>
<line x1="315.20" y1="332.00" x2="315.20" y2="460.60" stroke="#6a6a6a" stroke-width="1.05" />
<line x1="318.10" y1="332.00" x2="318.10" y2="460.60" stroke="#6a6a6a" stroke-width="1.05" />
<line x1="322.10" y1="332.00" x2="322.10" y2="460.60" stroke="#6a6a6a" stroke-width="1.05" />
<line x1="325.20" y1="332.00" x2="325.20" y2="460.60" stroke="#6a6a6a" stroke-width="1.05" />
<line x1="311.80" y1="460.60" x2="328.60" y2="460.60" stroke="#1c1c1c" stroke-width="1.9" />
<rect x="336.70" y="332.00" width="16.60" height="128.60" fill="#fbfbfb"/>
<line x1="340.10" y1="332.00" x2="340.10" y2="460.60" stroke="#6a6a6a" stroke-width="1.05" />
<line x1="343.00" y1="332.00" x2="343.00" y2="460.60" stroke="#6a6a6a" stroke-width="1.05" />
<line x1="347.00" y1="332.00" x2="347.00" y2="460.60" stroke="#6a6a6a" stroke-width="1.05" />
<line x1="350.10" y1="332.00" x2="350.10" y2="460.60" stroke="#6a6a6a" stroke-width="1.05" />
<line x1="336.70" y1="460.60" x2="353.30" y2="460.60" stroke="#1c1c1c" stroke-width="1.9" />
<rect x="361.60" y="332.00" width="18.40" height="128.60" fill="#fbfbfb"/>
<line x1="365.00" y1="332.00" x2="365.00" y2="460.60" stroke="#6a6a6a" stroke-width="1.05" />
<line x1="367.90" y1="332.00" x2="367.90" y2="460.60" stroke="#6a6a6a" stroke-width="1.05" />
<line x1="371.90" y1="332.00" x2="371.90" y2="460.60" stroke="#6a6a6a" stroke-width="1.05" />
<line x1="375.00" y1="332.00" x2="375.00" y2="460.60" stroke="#6a6a6a" stroke-width="1.05" />
<line x1="361.60" y1="460.60" x2="380.00" y2="460.60" stroke="#1c1c1c" stroke-width="1.9" />
<rect x="254.30" y="332.00" width="7.80" height="134.50" stroke="#1c1c1c" stroke-width="1.9" fill="#fff" />
<rect x="278.90" y="332.00" width="8.00" height="134.50" stroke="#1c1c1c" stroke-width="1.9" fill="#fff" />
<rect x="304.00" y="332.00" width="7.80" height="134.50" stroke="#1c1c1c" stroke-width="1.9" fill="#fff" />
<rect x="328.60" y="332.00" width="8.10" height="134.50" stroke="#1c1c1c" stroke-width="1.9" fill="#fff" />
<rect x="353.30" y="332.00" width="8.30" height="134.50" stroke="#1c1c1c" stroke-width="1.9" fill="#fff" />
<line x1="254.30" y1="343.00" x2="262.10" y2="343.00" stroke="#1c1c1c" stroke-width="1.9" />
<line x1="255.80" y1="332.50" x2="261.30" y2="342.20" stroke="#2e2e2e" stroke-width="0.8" />
<line x1="304.00" y1="343.00" x2="311.80" y2="343.00" stroke="#1c1c1c" stroke-width="1.9" />
<line x1="305.50" y1="332.50" x2="311.00" y2="342.20" stroke="#2e2e2e" stroke-width="0.8" />
<line x1="353.30" y1="343.00" x2="361.60" y2="343.00" stroke="#1c1c1c" stroke-width="1.9" />
<line x1="354.80" y1="332.50" x2="360.80" y2="342.20" stroke="#2e2e2e" stroke-width="0.8" />
</g>
<g id="lamR" clip-path="url(#cpHalfR)">
<rect x="385.00" y="332.00" width="21.50" height="128.70" fill="#fbfbfb"/>
<line x1="396.00" y1="332.00" x2="396.00" y2="460.70" stroke="#6a6a6a" stroke-width="1.05" />
<line x1="400.10" y1="332.00" x2="400.10" y2="460.70" stroke="#6a6a6a" stroke-width="1.05" />
<line x1="403.30" y1="332.00" x2="403.30" y2="460.70" stroke="#6a6a6a" stroke-width="1.05" />
<line x1="385.00" y1="460.70" x2="406.50" y2="460.70" stroke="#1c1c1c" stroke-width="1.9" />
<rect x="414.10" y="332.00" width="16.70" height="128.70" fill="#fbfbfb"/>
<line x1="417.50" y1="332.00" x2="417.50" y2="460.70" stroke="#6a6a6a" stroke-width="1.05" />
<line x1="420.40" y1="332.00" x2="420.40" y2="460.70" stroke="#6a6a6a" stroke-width="1.05" />
<line x1="424.40" y1="332.00" x2="424.40" y2="460.70" stroke="#6a6a6a" stroke-width="1.05" />
<line x1="427.50" y1="332.00" x2="427.50" y2="460.70" stroke="#6a6a6a" stroke-width="1.05" />
<line x1="414.10" y1="460.70" x2="430.80" y2="460.70" stroke="#1c1c1c" stroke-width="1.9" />
<rect x="438.20" y="332.00" width="16.00" height="128.70" fill="#fbfbfb"/>
<line x1="441.60" y1="332.00" x2="441.60" y2="460.70" stroke="#6a6a6a" stroke-width="1.05" />
<line x1="444.50" y1="332.00" x2="444.50" y2="460.70" stroke="#6a6a6a" stroke-width="1.05" />
<line x1="448.50" y1="332.00" x2="448.50" y2="460.70" stroke="#6a6a6a" stroke-width="1.05" />
<line x1="451.60" y1="332.00" x2="451.60" y2="460.70" stroke="#6a6a6a" stroke-width="1.05" />
<line x1="438.20" y1="460.70" x2="454.20" y2="460.70" stroke="#1c1c1c" stroke-width="1.9" />
<rect x="462.00" y="332.00" width="16.50" height="128.70" fill="#fbfbfb"/>
<line x1="465.40" y1="332.00" x2="465.40" y2="460.70" stroke="#6a6a6a" stroke-width="1.05" />
<line x1="468.30" y1="332.00" x2="468.30" y2="460.70" stroke="#6a6a6a" stroke-width="1.05" />
<line x1="472.30" y1="332.00" x2="472.30" y2="460.70" stroke="#6a6a6a" stroke-width="1.05" />
<line x1="475.40" y1="332.00" x2="475.40" y2="460.70" stroke="#6a6a6a" stroke-width="1.05" />
<line x1="462.00" y1="460.70" x2="478.50" y2="460.70" stroke="#1c1c1c" stroke-width="1.9" />
<rect x="406.50" y="332.00" width="7.60" height="135.00" stroke="#1c1c1c" stroke-width="1.9" fill="#fff" />
<rect x="430.80" y="332.00" width="7.40" height="135.00" stroke="#1c1c1c" stroke-width="1.9" fill="#fff" />
<rect x="454.20" y="332.00" width="7.80" height="135.00" stroke="#1c1c1c" stroke-width="1.9" fill="#fff" />
<rect x="478.50" y="332.00" width="7.90" height="135.00" stroke="#1c1c1c" stroke-width="1.9" fill="#fff" />
<line x1="430.80" y1="343.00" x2="438.20" y2="343.00" stroke="#1c1c1c" stroke-width="1.9" />
<line x1="478.50" y1="343.00" x2="486.40" y2="343.00" stroke="#1c1c1c" stroke-width="1.9" />
<line x1="431.60" y1="332.50" x2="437.00" y2="342.20" stroke="#2e2e2e" stroke-width="0.8" />
</g>
<path d="M233.2,332.0 L233.2,345.7 L197.4,345.7 L197.4,419.4 L254.3,419.4" stroke="#1c1c1c" stroke-width="1.9" fill="none" />
<path d="M508.3,332.0 L508.3,346.0 L543.7,346.0 L543.7,420.3 L486.4,420.3" stroke="#1c1c1c" stroke-width="1.9" fill="none" />
<rect x="187.30" y="372.30" width="10.10" height="3.50" stroke="#1c1c1c" stroke-width="1.5" fill="#bbb" />
<rect x="543.70" y="372.30" width="9.60" height="3.50" stroke="#1c1c1c" stroke-width="1.5" fill="#bbb" />
<rect x="187.30" y="382.80" width="10.10" height="3.60" stroke="#1c1c1c" stroke-width="1.5" fill="#bbb" />
<rect x="543.70" y="382.80" width="9.60" height="3.60" stroke="#1c1c1c" stroke-width="1.5" fill="#bbb" />
<path d="M374.0,197.5 C377.5,210 379.0,225 378.8,240 C378.6,258 376.5,272 374.3,285.6 C372.0,298 367.0,312 366.0,332.0 C366.5,375 369.5,420 372.0,461.0" stroke="#1c1c1c" stroke-width="1.9" fill="none" />
<path d="M395.0,202.0 C396.5,215 398.3,235 398.3,256.7 C398.2,270 397.8,278 397.4,285.6 C396.5,300 395.2,318 394.7,332.0 C393.0,355 390.8,380 391.3,400 C391.6,425 392.4,445 393.2,461.0" stroke="#1c1c1c" stroke-width="1.9" fill="none" />
<g id="leaders">
<path d="M346.7,91.3 L303.3,91.3 L273.0,235.4" stroke="#2e2e2e" stroke-width="0.9" fill="none" />
<circle cx="273.0" cy="235.4" r="2.0" fill="#1c1c1c"/>
<path d="M116.2,284.5 L148.7,284.5 L175.8,240.0 M148.7,284.5 L177.0,275.0" stroke="#2e2e2e" stroke-width="0.9" fill="none" />
<circle cx="175.8" cy="240.0" r="2.0" fill="#1c1c1c"/>
<circle cx="177.0" cy="275.0" r="2.0" fill="#1c1c1c"/>
<path d="M645.0,303.4 L601.4,303.4 L584.1,244.4 M601.4,303.4 L563.6,259.0" stroke="#2e2e2e" stroke-width="0.9" fill="none" />
<circle cx="584.1" cy="244.4" r="2.0" fill="#1c1c1c"/>
<circle cx="563.6" cy="259.0" r="2.0" fill="#1c1c1c"/>
<path d="M645.0,362.0 L600.8,362.0 L481.0,310.5" stroke="#2e2e2e" stroke-width="0.9" fill="none" />
<circle cx="481.0" cy="310.5" r="2.0" fill="#1c1c1c"/>
</g>
<text x="325.00" y="85.00" font-family="Liberation Sans, sans-serif" font-size="14" text-anchor="middle" fill="#303030" textLength="4.5" lengthAdjust="spacingAndGlyphs" >1</text>
<text x="134.20" y="279.00" font-family="Liberation Sans, sans-serif" font-size="14" text-anchor="middle" fill="#303030" textLength="6.2" lengthAdjust="spacingAndGlyphs" >3</text>
<text x="621.00" y="294.50" font-family="Liberation Sans, sans-serif" font-size="14" text-anchor="middle" fill="#303030" textLength="6.2" lengthAdjust="spacingAndGlyphs" >3</text>
<text x="624.20" y="356.00" font-family="Liberation Sans, sans-serif" font-size="14" text-anchor="middle" fill="#303030" textLength="6.2" lengthAdjust="spacingAndGlyphs" >2</text>
<text x="159.70" y="89.00" font-family="Liberation Sans, sans-serif" font-size="13.5" text-anchor="middle" fill="#303030" textLength="4.2" lengthAdjust="spacingAndGlyphs" >1</text>
<text x="178.30" y="63.40" font-family="Liberation Sans, sans-serif" font-size="13.5" text-anchor="middle" fill="#303030" textLength="5.8" lengthAdjust="spacingAndGlyphs" >5</text>
<text x="220.00" y="67.50" font-family="Liberation Sans, sans-serif" font-size="13.5" text-anchor="middle" fill="#303030" textLength="5.8" lengthAdjust="spacingAndGlyphs" >3</text>
<text x="522.80" y="65.50" font-family="Liberation Sans, sans-serif" font-size="13.5" text-anchor="middle" fill="#303030" textLength="5.8" lengthAdjust="spacingAndGlyphs" >4</text>
<text x="562.80" y="30.50" font-family="Liberation Sans, sans-serif" font-size="13.5" text-anchor="middle" fill="#303030" textLength="5.8" lengthAdjust="spacingAndGlyphs" >6</text>
<text x="593.00" y="58.00" font-family="Liberation Sans, sans-serif" font-size="13.5" text-anchor="middle" fill="#303030" textLength="5.8" lengthAdjust="spacingAndGlyphs" >2</text>
<g id="schematic" fill="none" stroke-linecap="butt" stroke-linejoin="round">
<path d="M750.80,30.3 L750.80,56.6 A7.444,7.200 0 0 0 765.69,56.6 A7.444,7.200 0 0 0 780.58,56.6 A7.444,7.200 0 0 0 795.46,56.6 A7.444,7.200 0 0 0 810.35,56.6 A7.444,7.200 0 0 0 825.24,56.6 A7.444,7.200 0 0 0 840.12,56.6 A7.444,7.200 0 0 0 855.01,56.6 A7.444,7.200 0 0 0 869.90,56.6 L869.90,30.3" stroke="#1c1c1c" stroke-width="1.35" fill="none" />
<line x1="740.20" y1="70.20" x2="880.50" y2="70.20" stroke="#1c1c1c" stroke-width="1.5" />
<path d="M758.60,110.8 L758.60,84.4 A7.537,7.400 0 0 1 773.67,84.4 A7.537,7.400 0 0 1 788.75,84.4 A7.537,7.400 0 0 1 803.83,84.4 A7.537,7.400 0 0 1 818.90,84.4 L818.90,110.8" stroke="#1c1c1c" stroke-width="1.35" fill="none" />
<path d="M828.90,110.8 L828.90,84.4 A7.417,7.400 0 0 1 843.73,84.4 A7.417,7.400 0 0 1 858.57,84.4 A7.417,7.400 0 0 1 873.40,84.4 L873.40,110.8" stroke="#1c1c1c" stroke-width="1.35" fill="none" />
</g>
<circle cx="740.2" cy="30.3" r="1.2" fill="#1c1c1c"/>
<circle cx="752.7" cy="85.3" r="1.2" fill="#1c1c1c"/>
<circle cx="877.8" cy="84.2" r="1.2" fill="#1c1c1c"/>
<text x="751.00" y="21.40" font-family="Liberation Sans, sans-serif" font-size="13" text-anchor="middle" fill="#303030" textLength="5.4" lengthAdjust="spacingAndGlyphs" >3</text>
<text x="869.20" y="23.00" font-family="Liberation Sans, sans-serif" font-size="13" text-anchor="middle" fill="#303030" textLength="5.6" lengthAdjust="spacingAndGlyphs" >4</text>
<text x="759.30" y="126.70" font-family="Liberation Sans, sans-serif" font-size="13" text-anchor="middle" fill="#303030" textLength="4.0" lengthAdjust="spacingAndGlyphs" >1</text>
<text x="817.60" y="126.70" font-family="Liberation Sans, sans-serif" font-size="13" text-anchor="middle" fill="#303030" textLength="5.6" lengthAdjust="spacingAndGlyphs" >2</text>
<text x="829.40" y="126.70" font-family="Liberation Sans, sans-serif" font-size="13" text-anchor="middle" fill="#303030" textLength="5.6" lengthAdjust="spacingAndGlyphs" >6</text>
<text x="872.70" y="126.70" font-family="Liberation Sans, sans-serif" font-size="13" text-anchor="middle" fill="#303030" textLength="5.6" lengthAdjust="spacingAndGlyphs" >5</text>
<text x="758.30" y="166.30" font-family="Liberation Sans, sans-serif" font-size="24" text-anchor="start" fill="#303030" textLength="172.9" lengthAdjust="spacingAndGlyphs" >Данные обмоток</text>
<line x1="757.00" y1="169.60" x2="932.40" y2="169.60" stroke="#1c1c1c" stroke-width="1.3" />
<g id="table">
<rect x="659.50" y="193.30" width="353.10" height="117.20" stroke="#262626" stroke-width="1.0" fill="none" />
<line x1="747.50" y1="193.30" x2="747.50" y2="310.50" stroke="#262626" stroke-width="1.0" />
<line x1="836.50" y1="193.30" x2="836.50" y2="310.50" stroke="#262626" stroke-width="1.0" />
<line x1="923.50" y1="193.30" x2="923.50" y2="310.50" stroke="#262626" stroke-width="1.0" />
<line x1="659.50" y1="222.50" x2="1012.60" y2="222.50" stroke="#262626" stroke-width="1.0" />
<line x1="659.50" y1="252.50" x2="1012.60" y2="252.50" stroke="#262626" stroke-width="1.0" />
<line x1="659.50" y1="281.50" x2="1012.60" y2="281.50" stroke="#262626" stroke-width="1.0" />
</g>
<text x="677.90" y="212.60" font-family="Liberation Sans, sans-serif" font-size="14" text-anchor="start" fill="#303030" textLength="52.8" lengthAdjust="spacingAndGlyphs" >Обмотка</text>
<text x="752.00" y="212.60" font-family="Liberation Sans, sans-serif" font-size="14" text-anchor="start" fill="#303030" textLength="78.5" lengthAdjust="spacingAndGlyphs" >К-во витков</text>
<text x="859.00" y="205.60" font-family="Liberation Sans, sans-serif" font-size="14" text-anchor="start" fill="#303030" textLength="36.4" lengthAdjust="spacingAndGlyphs" >Длина</text>
<text x="852.70" y="220.60" font-family="Liberation Sans, sans-serif" font-size="14" text-anchor="start" fill="#303030" textLength="49.0" lengthAdjust="spacingAndGlyphs" >выводов</text>
<text x="930.20" y="210.30" font-family="Liberation Sans, sans-serif" font-size="14" text-anchor="start" fill="#303030" textLength="77.0" lengthAdjust="spacingAndGlyphs" >Тип провода</text>
<text x="688.60" y="243.00" font-family="Liberation Serif, sans-serif" font-size="15" text-anchor="start" fill="#222" textLength="4.5" lengthAdjust="spacingAndGlyphs" >I</text>
<text x="697.10" y="243.00" font-family="Liberation Sans, sans-serif" font-size="14" text-anchor="start" fill="#303030" textLength="21.9" lengthAdjust="spacingAndGlyphs" >(1-2)</text>
<text x="688.00" y="270.90" font-family="Liberation Serif, sans-serif" font-size="15" text-anchor="start" fill="#222" textLength="9.5" lengthAdjust="spacingAndGlyphs" >II</text>
<text x="701.50" y="270.90" font-family="Liberation Sans, sans-serif" font-size="14" text-anchor="start" fill="#303030" textLength="23.9" lengthAdjust="spacingAndGlyphs" >(3-4)</text>
<text x="688.00" y="300.90" font-family="Liberation Serif, sans-serif" font-size="15" text-anchor="start" fill="#222" textLength="14.5" lengthAdjust="spacingAndGlyphs" >III</text>
<text x="706.50" y="300.90" font-family="Liberation Sans, sans-serif" font-size="14" text-anchor="start" fill="#303030" textLength="23.5" lengthAdjust="spacingAndGlyphs" >(5-6)</text>
<text x="776.00" y="242.50" font-family="Liberation Sans, sans-serif" font-size="14" fill="#303030" textLength="26.6" lengthAdjust="spacingAndGlyphs">105<tspan text-decoration="underline">+</tspan>3</text>
<text x="761.50" y="271.30" font-family="Liberation Sans, sans-serif" font-size="14" fill="#303030" textLength="49.4" lengthAdjust="spacingAndGlyphs">4800<tspan text-decoration="underline">+</tspan>260</text>
<text x="779.80" y="298.40" font-family="Liberation Sans, sans-serif" font-size="14" fill="#303030" textLength="19.0" lengthAdjust="spacingAndGlyphs">16<tspan text-decoration="underline">+</tspan>1</text>
<text x="860.60" y="242.20" font-family="Liberation Sans, sans-serif" font-size="14" text-anchor="start" fill="#303030" textLength="31.6" lengthAdjust="spacingAndGlyphs" >130min</text>
<text x="865.30" y="270.90" font-family="Liberation Sans, sans-serif" font-size="14" text-anchor="start" fill="#303030" textLength="26.9" lengthAdjust="spacingAndGlyphs" >80min</text>
<text x="865.30" y="302.20" font-family="Liberation Sans, sans-serif" font-size="14" text-anchor="start" fill="#303030" textLength="30.1" lengthAdjust="spacingAndGlyphs" >145min</text>
<text x="928.70" y="243.30" font-family="Liberation Sans, sans-serif" font-size="13.5" text-anchor="start" fill="#303030" textLength="57.0" lengthAdjust="spacingAndGlyphs" >ПЭВ-2-0,45</text>
<text x="930.20" y="271.30" font-family="Liberation Sans, sans-serif" font-size="12.5" text-anchor="start" fill="#303030" textLength="77.0" lengthAdjust="spacingAndGlyphs" stroke="#333" stroke-width="0.2">ПЭВ-2-0,09-0.1</text>
<text x="928.70" y="302.20" font-family="Liberation Sans, sans-serif" font-size="13.5" text-anchor="start" fill="#303030" textLength="57.0" lengthAdjust="spacingAndGlyphs" >ПЭВ-2-0,45</text>
<text x="671.70" y="444.30" font-family="Liberation Sans, sans-serif" font-size="13" text-anchor="start" fill="#303030" textLength="153.3" lengthAdjust="spacingAndGlyphs" word-spacing="1.6">1. *Размеры для справок.</text>
<text x="671.70" y="460.26" font-family="Liberation Sans, sans-serif" font-size="13" text-anchor="start" fill="#303030" textLength="370.8" lengthAdjust="spacingAndGlyphs" word-spacing="1.6">2. Трансформатор пропитать лаком БТ-988 ГОСТ 6244-70.</text>
<text x="689.60" y="476.22" font-family="Liberation Sans, sans-serif" font-size="13" text-anchor="start" fill="#303030" textLength="372.1" lengthAdjust="spacingAndGlyphs" word-spacing="1.6">Выводы обмоток на длине 10-15 мм. От лака предохранить</text>
<text x="671.70" y="492.18" font-family="Liberation Sans, sans-serif" font-size="13" text-anchor="start" fill="#303030" textLength="334.6" lengthAdjust="spacingAndGlyphs" word-spacing="1.6">3. Допускается применять провод ПВЭТЛ-1 – 0,09-0.1</text>
<text x="671.70" y="508.14" font-family="Liberation Sans, sans-serif" font-size="13" text-anchor="start" fill="#303030" textLength="290.0" lengthAdjust="spacingAndGlyphs" word-spacing="1.6">4. Выводы обмоток зачистить на длине 6+1мм</text>
<text x="671.70" y="524.10" font-family="Liberation Sans, sans-serif" font-size="13" word-spacing="1.6" fill="#303030" textLength="381.6" lengthAdjust="spacingAndGlyphs">5. На выводы обмотки надеть трубку поз.3. длиной 55<tspan text-decoration="underline">+</tspan>2 мм.</text>
<text x="671.70" y="540.06" font-family="Liberation Sans, sans-serif" font-size="13" text-anchor="start" fill="#303030" textLength="458.3" lengthAdjust="spacingAndGlyphs" word-spacing="1.6">6. Обозначение обмоток и нумерация выводов даны условно согласно Э3</text>
</svg>
</body></html>
